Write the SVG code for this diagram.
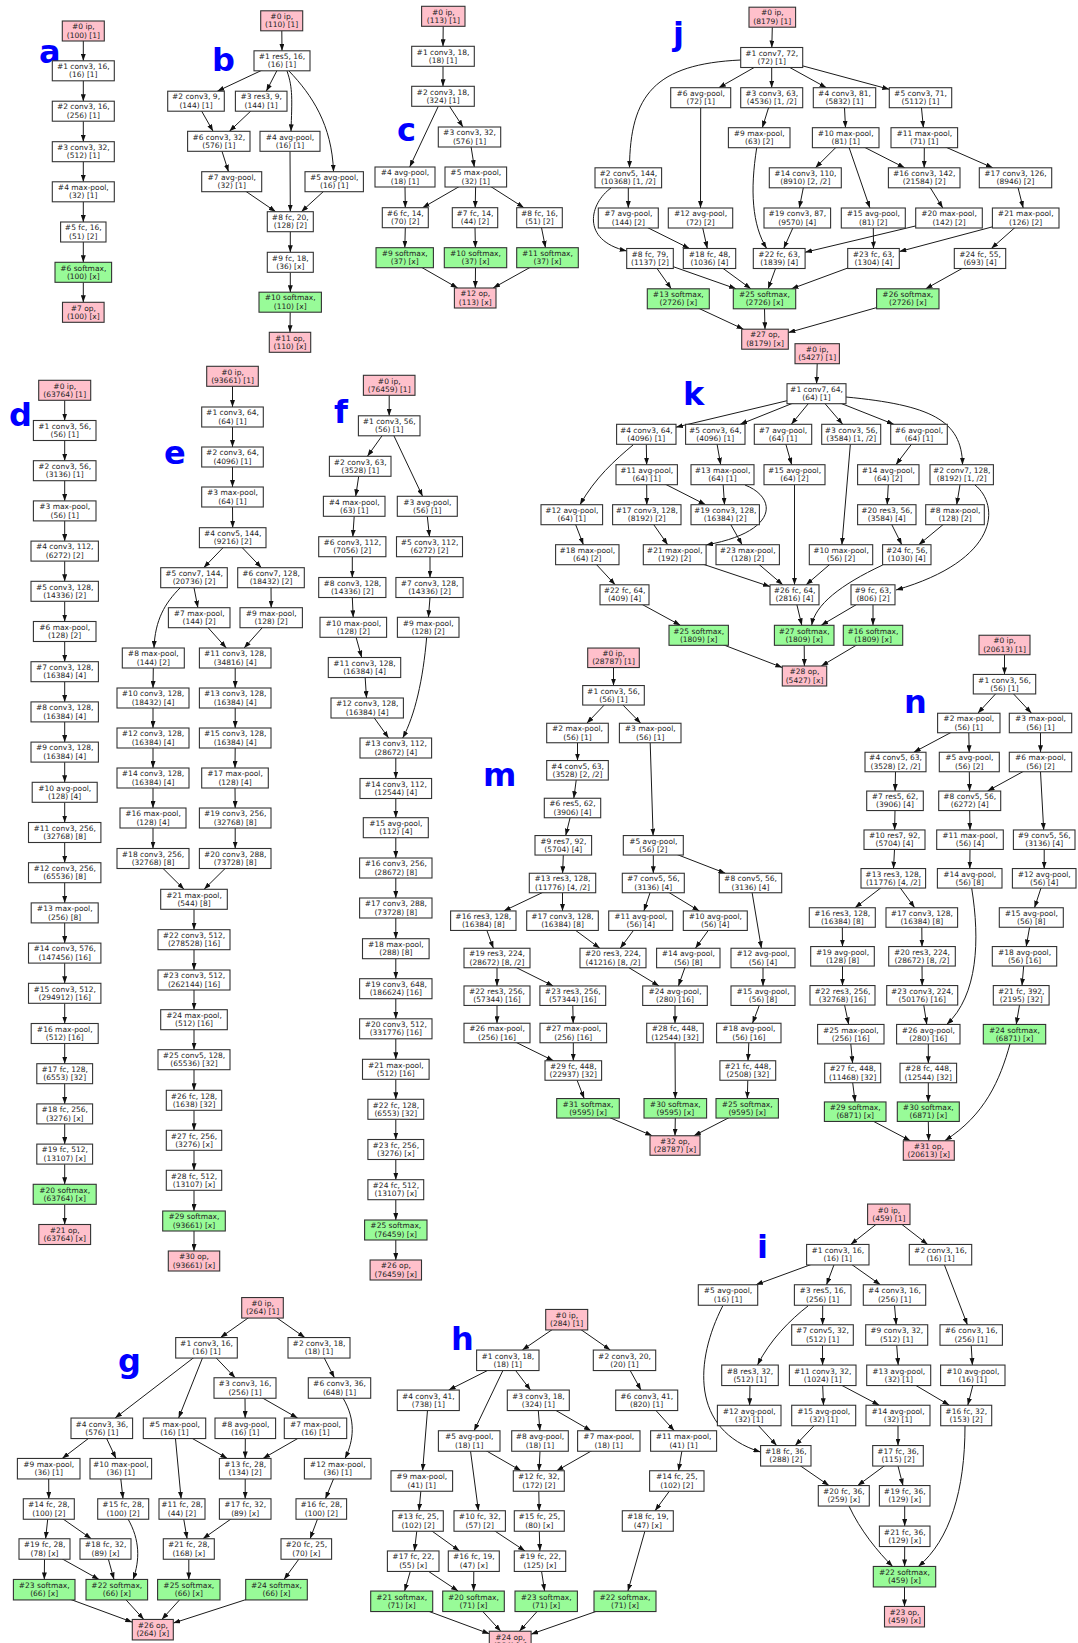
<svg xmlns="http://www.w3.org/2000/svg" width="1078" height="1643" viewBox="0 0 1078 1643">
<defs>
<marker id="ah" viewBox="0 0 10 10" refX="10" refY="5" markerWidth="7" markerHeight="5" markerUnits="userSpaceOnUse" orient="auto" preserveAspectRatio="none"><path d="M0,0 L10,5 L0,10 z" fill="#111"/></marker>
<style>
.e path{fill:none;stroke:#1a1a1a;stroke-width:1;marker-end:url(#ah)}
.nd rect{fill:#fff;stroke:#333;stroke-width:1.1}
.ip rect{fill:#ffc0cb}
.sm rect{fill:#98fb98}
text{font-family:"DejaVu Sans",sans-serif;font-size:7.5px;fill:#222;text-anchor:middle}
.lbl{font-size:32px;font-weight:bold;fill:#0000ff;text-anchor:start}
</style>
</defs>
<rect width="1078" height="1643" fill="#fff"/>
<g id="labels">
<text class="lbl" x="39" y="63">a</text>
<text class="lbl" x="212" y="70.5">b</text>
<text class="lbl" x="397" y="140.5">c</text>
<text class="lbl" x="673" y="44.5">j</text>
<text class="lbl" x="9" y="425.5">d</text>
<text class="lbl" x="164" y="464">e</text>
<text class="lbl" x="334" y="423">f</text>
<text class="lbl" x="683" y="405">k</text>
<text class="lbl" x="483" y="785.5">m</text>
<text class="lbl" x="904" y="713">n</text>
<text class="lbl" x="118" y="1371.5">g</text>
<text class="lbl" x="451" y="1350">h</text>
<text class="lbl" x="757" y="1257.5">i</text>
</g>
<g id="connectors" class="e">
<path d="M83.3,41 L83.3,60.8"/><path d="M83.3,80.8 L83.3,101.2"/><path d="M83.3,121.2 L83.3,141.7"/><path d="M83.3,161.7 L83.3,181.8"/><path d="M83.3,201.8 L83.3,222"/><path d="M83.3,242 L83.3,262.3"/><path d="M83.3,282.3 L83.3,302.3"/>
<path d="M281.8,30.8 L282,50.8"/><path d="M282,60.8 L217.3,91.2"/><path d="M282,60.8 L266.3,91.2"/><path d="M287,71 C293,88 292,100 291,131.3"/><path d="M289,71 C312,95 332,125 333.5,171.7"/><path d="M196,101.2 L213.1,131.3"/><path d="M261.2,101.2 L229.4,131.3"/><path d="M218.8,141.3 L228.5,171.7"/><path d="M231.7,181.7 L275.7,211.7"/><path d="M290,151.3 L290.3,211.7"/><path d="M334.2,181.7 L301.3,211.7"/><path d="M290.3,231.7 L290.3,252.3"/><path d="M290.3,272.3 L290.3,292.2"/><path d="M290.2,312.2 L290,332.3"/>
<path d="M443.2,26.3 L443,46.3"/><path d="M443,66.3 L443,86.3"/><path d="M443,96.3 L409.7,167"/><path d="M443,96.3 L463,127"/><path d="M469.5,137 L474.3,167"/><path d="M405,187 L405.3,207.7"/><path d="M475.8,177 L422.6,207.7"/><path d="M475.8,177 L475.2,207.7"/><path d="M475.8,177 L523.9,207.7"/><path d="M405.3,227.7 L404.8,247.7"/><path d="M475,227.7 L475.4,247.7"/><path d="M539.5,217.7 L545.5,247.7"/><path d="M404.7,257.7 L457.7,288"/><path d="M475.5,267.7 L475.3,288"/><path d="M547.5,257.7 L493.1,288"/>
<path d="M772.3,27.2 L771.8,47.5"/><path d="M771.7,57.5 L718.8,87.7"/><path d="M771.7,67.5 L771.7,87.7"/><path d="M771.7,57.5 L826.4,87.7"/><path d="M771.7,57.5 L889.3,89.3"/><path d="M740.7,60 C655,64 630,95 629.5,167.8"/><path d="M700.7,107.7 L700.5,208"/><path d="M771.7,97.7 L762.3,127.7"/><path d="M844.5,107.7 L845.5,127.7"/><path d="M920.5,97.7 L923.4,127.7"/><path d="M756.7,148 C750,190 752,225 766.7,248.5"/><path d="M845.7,137.7 L815.4,167.8"/><path d="M845.7,137.7 L904.7,167.8"/><path d="M845.7,137.7 L869.9,208"/><path d="M924.3,147.7 L924.2,167.8"/><path d="M924.3,137.7 L992.8,167.8"/><path d="M628.3,187.8 L628.3,208"/><path d="M611,188 C590,203 580,240 626.7,251"/><path d="M805.3,177.8 L799.3,208"/><path d="M924.2,177.8 L942.8,208"/><path d="M1015.5,177.8 L1023.2,208"/><path d="M628.3,218 L689.5,248.5"/><path d="M700.5,218 L707.3,248.5"/><path d="M797.3,218 L783.7,248.5"/><path d="M949,218 L805,252.3"/><path d="M873.3,228 L873.5,248.5"/><path d="M1025.7,218 L899.3,251.6"/><path d="M1025.7,218 L991.3,248.5"/><path d="M650,258.5 L671.3,288.8"/><path d="M650,258.5 L736.1,288.8"/><path d="M709.5,258.5 L750.9,288.8"/><path d="M779.2,258.5 L768.1,288.8"/><path d="M873.5,258.5 L791.5,288.8"/><path d="M980,258.5 L925.7,288.8"/><path d="M678.3,298.8 L743.5,329.2"/><path d="M764.5,308.8 L765,329.2"/><path d="M907.8,298.8 L788.3,332.6"/>
<path d="M64.7,400.3 L64.7,420.5"/><path d="M64.7,440.5 L64.7,460.7"/><path d="M64.7,480.7 L64.7,500.9"/><path d="M64.7,520.9 L64.7,541.1"/><path d="M64.7,561.1 L64.7,581.3"/><path d="M64.7,601.3 L64.7,621.5"/><path d="M64.7,641.5 L64.7,661.7"/><path d="M64.7,681.7 L64.7,701.9"/><path d="M64.7,721.9 L64.7,742.1"/><path d="M64.7,762.1 L64.7,782.3"/><path d="M64.7,802.3 L64.7,822.5"/><path d="M64.7,842.5 L64.7,862.7"/><path d="M64.7,882.7 L64.7,902.9"/><path d="M64.7,922.9 L64.7,943.1"/><path d="M64.7,963.1 L64.7,983.3"/><path d="M64.7,1003.3 L64.7,1023.5"/><path d="M64.7,1043.5 L64.7,1063.7"/><path d="M64.7,1083.7 L64.7,1103.9"/><path d="M64.7,1123.9 L64.7,1144.1"/><path d="M64.7,1164.1 L64.7,1184.3"/><path d="M64.7,1204.3 L64.7,1224.5"/>
<path d="M232.5,386.3 L232.5,407"/><path d="M232.5,427 L232.5,447"/><path d="M232.5,467 L232.5,487"/><path d="M232.5,507 L232.7,527.7"/><path d="M232.7,537.7 L203.7,567.7"/><path d="M232.7,537.7 L261.4,567.7"/><path d="M194,587.7 L197.9,607.7"/><path d="M180,588 C165,603 155,620 154,648"/><path d="M271,587.7 L271.2,607.7"/><path d="M199.2,617.7 L226.3,648"/><path d="M271.2,617.7 L244.1,648"/><path d="M153.3,668 L153,688"/><path d="M153,708 L153,728"/><path d="M153,748 L153,768"/><path d="M153,788 L153,808"/><path d="M153,828 L153,848.5"/><path d="M235.2,668 L235.2,688"/><path d="M235.2,708 L235.2,728"/><path d="M235.2,748 L235,768"/><path d="M235,788 L235.2,808"/><path d="M235.2,828 L235.2,848.5"/><path d="M153,858.5 L184,889.3"/><path d="M235.2,858.5 L204.1,889.3"/><path d="M194,909.3 L194,929.7"/><path d="M194,949.7 L194,970"/><path d="M194,990 L194,1009.7"/><path d="M194,1029.7 L194,1049.7"/><path d="M194,1069.7 L194,1090.3"/><path d="M194,1110.3 L194,1130.3"/><path d="M194,1150.3 L194,1170.3"/><path d="M194,1190.3 L194,1211"/><path d="M194,1231 L194,1251"/>
<path d="M389.2,395.3 L389.2,415.8"/><path d="M389.2,425.8 L367.4,456.3"/><path d="M389.2,425.8 L422.6,496.3"/><path d="M360.2,466.3 L355.7,496.3"/><path d="M354.2,516.3 L352.8,536.7"/><path d="M352.3,556.7 L352.3,577.5"/><path d="M352.3,597.5 L353.2,617.3"/><path d="M353.3,627.3 L361.7,657.5"/><path d="M364.5,667.5 L366.5,698"/><path d="M367.2,708 L388.6,738"/><path d="M427.3,516.3 L429.5,536.7"/><path d="M430,556.7 L430,577.5"/><path d="M430,597.5 L428.4,617.3"/><path d="M426.7,637 C423,680 415,715 402.7,738"/><path d="M395.8,758 L395.8,778.5"/><path d="M395.8,798.5 L395.8,817.7"/><path d="M395.8,837.7 L395.8,858"/><path d="M395.8,878 L395.8,898"/><path d="M395.8,918 L395.8,938.7"/><path d="M395.8,958.7 L395.8,978.7"/><path d="M395.8,998.7 L395.8,1018.8"/><path d="M395.8,1038.8 L395.8,1059.3"/><path d="M395.8,1079.3 L395.8,1099.3"/><path d="M395.8,1119.3 L395.8,1139.5"/><path d="M395.8,1159.5 L395.8,1179.7"/><path d="M395.8,1199.7 L395.8,1220"/><path d="M395.8,1240 L395.8,1260"/>
<path d="M817.2,363.7 L816.6,383.7"/><path d="M816.5,393.7 L675.9,427.2"/><path d="M816.5,393.7 L740.2,424.3"/><path d="M816.5,393.7 L791.3,424.3"/><path d="M816.5,393.7 L842.7,424.3"/><path d="M816.5,393.7 L893.8,424.3"/><path d="M846,397 C930,405 962,420 962.5,464.7"/><path d="M646.3,444.3 L646.7,464.7"/><path d="M633,445 C615,460 595,478 580,504.7"/><path d="M715.3,434.3 L720.7,464.7"/><path d="M783,434.3 L791.7,464.7"/><path d="M851.2,434.3 L841.9,544.7"/><path d="M919,434.3 L895.9,464.7"/><path d="M961.7,474.7 L956.7,504.7"/><path d="M975,485 C1000,505 1000,560 896,590"/><path d="M646.7,484.7 L646.8,504.7"/><path d="M646.7,474.7 L705.6,504.7"/><path d="M722.5,474.7 L724.5,504.7"/><path d="M745,485 C778,498 778,532 706,545"/><path d="M888.3,484.7 L887.2,504.7"/><path d="M571.8,514.7 L583.4,544.7"/><path d="M646.8,514.7 L667.7,544.7"/><path d="M725.2,514.7 L742.1,544.7"/><path d="M886.8,514.7 L901.8,544.7"/><path d="M955,514.7 L918.8,544.7"/><path d="M587.3,554.7 L615.2,584.8"/><path d="M674.7,554.7 L770,586.6"/><path d="M747.7,554.7 L782.8,584.8"/><path d="M794.5,484.7 L794.5,584.8"/><path d="M841,554.7 L806.1,584.8"/><path d="M882.7,565 C840,585 815,605 811.7,625.3"/><path d="M624.5,594.8 L680.4,625.3"/><path d="M794.5,594.8 L801.8,625.3"/><path d="M873,594.8 L821.2,625.3"/><path d="M873,604.8 L873,625.3"/><path d="M698.7,635.3 L782.3,667.5"/><path d="M804.2,645.3 L804.4,666"/><path d="M873,635.3 L821.3,666"/>
<path d="M613.5,667.55 L613.5,685.55"/><path d="M613.5,695.3 L586.8,723.25"/><path d="M613.5,695.3 L640.7,723.25"/><path d="M577.5,742.75 L577.5,760.55"/><path d="M577.5,770.3 L573.8,798.25"/><path d="M572.5,808 L565.7,835.55"/><path d="M563.3,855.05 L562.6,873.25"/><path d="M650.2,742.75 L653.1,835.55"/><path d="M653.3,855.05 L653.3,873.25"/><path d="M653.3,845.3 L725.4,873.25"/><path d="M562.5,883 L503.8,910.95"/><path d="M562.5,892.75 L562.5,910.95"/><path d="M653.3,883 L643.9,910.95"/><path d="M653.3,883 L699.3,910.95"/><path d="M750.5,883 L761.4,948.25"/><path d="M483.3,920.7 L493.4,948.25"/><path d="M562.5,920.7 L599.8,948.25"/><path d="M640.7,920.7 L620.2,948.25"/><path d="M715.3,920.7 L695.4,948.25"/><path d="M497,967.75 L497,985.95"/><path d="M497,958 L553.2,985.95"/><path d="M613,958 L659,985.95"/><path d="M688.3,958 L678.4,985.95"/><path d="M763,967.75 L763,985.95"/><path d="M497,1005.45 L497,1023.25"/><path d="M572.8,1005.45 L573.2,1023.25"/><path d="M675,1005.45 L675,1023.25"/><path d="M763,995.7 L752.5,1023.25"/><path d="M497,1033 L553.5,1060.75"/><path d="M573.3,1042.75 L573.3,1060.75"/><path d="M748.8,1042.75 L748,1060.75"/><path d="M573.3,1070.5 L584.2,1098.55"/><path d="M675,1042.75 L675.3,1098.55"/><path d="M747.8,1080.25 L747.3,1098.55"/><path d="M588,1108.3 L652.2,1135.75"/><path d="M675.3,1118.05 L675,1135.75"/><path d="M747.2,1108.3 L693.9,1135.75"/>
<path d="M1004.5,654.75 L1004.5,674.45"/><path d="M1004.5,684.2 L977.8,713.25"/><path d="M1004.5,684.2 L1031.5,713.25"/><path d="M968.8,723 L913.8,752.25"/><path d="M968.8,732.75 L969.2,752.25"/><path d="M1040.5,732.75 L1040.5,752.25"/><path d="M895.5,771.75 L895.1,791.05"/><path d="M969.3,771.75 L969.6,791.05"/><path d="M1040.5,762 L987.5,791.05"/><path d="M1040.5,771.75 L1043.7,829.95"/><path d="M895,810.55 L894.6,829.95"/><path d="M969.7,810.55 L970,829.95"/><path d="M894.5,849.45 L893.5,868.55"/><path d="M970,849.45 L969.8,868.55"/><path d="M1044.2,849.45 L1044.2,868.55"/><path d="M893.3,878.3 L855,907.75"/><path d="M893.3,878.3 L914.7,907.75"/><path d="M1044.2,878.3 L1034.5,907.75"/><path d="M842.3,927.25 L842.5,946.55"/><path d="M921.8,927.25 L922,946.55"/><path d="M1031.3,917.5 L1026.2,946.55"/><path d="M842.5,966.05 L842.5,985.55"/><path d="M922,966.05 L922.2,985.55"/><path d="M1024.5,956.3 L1022,985.55"/><path d="M842.5,995.3 L848.7,1024.45"/><path d="M922.2,995.3 L926.8,1024.45"/><path d="M971.7,888.3 C980,940 978,995 946.7,1024.5"/><path d="M1021.2,995.3 L1016.2,1024.45"/><path d="M850.8,1043.95 L852.6,1063.25"/><path d="M928.3,1043.95 L928.3,1063.25"/><path d="M852.7,1082.75 L855.1,1101.95"/><path d="M928.3,1082.75 L928.3,1101.95"/><path d="M855.2,1111.7 L910.3,1140.75"/><path d="M928.3,1121.45 L928.7,1140.75"/><path d="M1010,1044 C1000,1080 985,1115 945,1140.5"/>
<path d="M262.5,1307.8 L220.5,1337.55"/><path d="M262.5,1307.8 L304.9,1337.55"/><path d="M206.5,1347.8 L115.1,1418.05"/><path d="M206.5,1347.8 L178.6,1418.05"/><path d="M206.5,1347.8 L235.2,1377.75"/><path d="M319,1347.8 L334.4,1377.75"/><path d="M245,1398.25 L245.2,1418.05"/><path d="M245,1388 L297.6,1418.05"/><path d="M343,1398 C356,1420 354,1440 345,1458.5"/><path d="M101.8,1428.3 L62.2,1458.45"/><path d="M101.8,1428.3 L116,1458.45"/><path d="M174.5,1428.3 L227.3,1458.45"/><path d="M245.3,1438.55 L245.2,1458.45"/><path d="M315.5,1428.3 L263,1458.45"/><path d="M174.5,1428.3 L181.1,1498.75"/><path d="M245.2,1478.95 L245.2,1498.75"/><path d="M337.7,1468.7 L325.4,1498.75"/><path d="M48.7,1478.95 L48.8,1498.75"/><path d="M120.8,1478.95 L123,1498.75"/><path d="M48.8,1509 L45.6,1538.75"/><path d="M48.8,1509 L91.3,1538.75"/><path d="M182,1509 L187.1,1538.75"/><path d="M245.2,1509 L202.9,1538.75"/><path d="M321.3,1509 L310.1,1538.75"/><path d="M44.5,1559.25 L44.3,1579.45"/><path d="M44.5,1549 L99,1579.45"/><path d="M105.5,1549 L114,1579.45"/><path d="M128,1519 C140,1540 140,1560 133,1579.5"/><path d="M188.8,1559.25 L188.8,1579.45"/><path d="M306.3,1549 L284,1579.45"/><path d="M44.2,1589.7 L132.3,1622.15"/><path d="M116.8,1589.7 L143.8,1619.45"/><path d="M188.8,1589.7 L161.8,1619.45"/><path d="M276.5,1589.7 L173.3,1623.1"/>
<path d="M566.7,1319.7 L522.3,1350.05"/><path d="M566.7,1319.7 L610.3,1350.05"/><path d="M507.8,1360.3 L448.7,1390.05"/><path d="M507.8,1360.3 L474.1,1430.75"/><path d="M507.8,1360.3 L530.5,1390.05"/><path d="M624.5,1360.3 L641,1390.05"/><path d="M646.7,1400.3 L674.3,1430.75"/><path d="M538.3,1410.55 L539.9,1430.75"/><path d="M538.3,1400.3 L591,1430.75"/><path d="M428.3,1400.3 L422.6,1470.75"/><path d="M469.2,1441 L521,1470.75"/><path d="M540,1451.25 L539,1470.75"/><path d="M608.8,1441 L556.7,1470.75"/><path d="M683.6,1441 L678.5,1470.75"/><path d="M469.2,1441 L478.4,1510.75"/><path d="M421.8,1481 L419,1510.75"/><path d="M538.8,1491.25 L539.2,1510.75"/><path d="M676.8,1481 L655,1510.75"/><path d="M418,1521 L414.4,1550.95"/><path d="M418,1521 L459.6,1550.95"/><path d="M479.7,1521 L525,1550.95"/><path d="M539.3,1531.25 L539.9,1550.95"/><path d="M413.2,1561.2 L404.6,1591.05"/><path d="M413.2,1561.2 L458.1,1591.05"/><path d="M473.8,1571.45 L473.6,1591.05"/><path d="M540,1561.2 L544.6,1591.05"/><path d="M647.8,1521 L627.9,1591.05"/><path d="M401.7,1601.3 L489.35,1633.8"/><path d="M473.5,1601.3 L500.8,1631.25"/><path d="M546.2,1601.3 L519.4,1631.25"/><path d="M625,1601.3 L531.05,1634.2"/>
<path d="M888.8,1214.3 L850.7,1244.45"/><path d="M888.8,1214.3 L927.7,1244.45"/><path d="M837.8,1254.7 L755.9,1284.75"/><path d="M837.8,1254.7 L826.5,1284.75"/><path d="M837.8,1254.7 L880.4,1284.75"/><path d="M940.5,1254.7 L967.4,1324.75"/><path d="M822.7,1305.25 L822.6,1324.75"/><path d="M808,1306 C790,1320 770,1340 757.5,1365"/><path d="M894.5,1305.25 L896.2,1324.75"/><path d="M971.2,1345.25 L972.4,1365.05"/><path d="M822.5,1345.25 L822.6,1365.05"/><path d="M896.7,1345.25 L898.2,1365.05"/><path d="M722.7,1306 C695,1360 690,1430 760.5,1452"/><path d="M750,1385.55 L749.6,1405.25"/><path d="M822.7,1385.55 L823.5,1405.25"/><path d="M822.7,1375.3 L879.3,1405.25"/><path d="M898.7,1375.3 L949.4,1405.25"/><path d="M972.8,1385.55 L967.8,1405.25"/><path d="M749.2,1415.5 L776.7,1445.55"/><path d="M823.7,1415.5 L795.2,1445.55"/><path d="M898,1425.75 L898,1445.55"/><path d="M785.8,1455.8 L829,1485.55"/><path d="M898,1455.8 L857.7,1485.55"/><path d="M898,1466.05 L903,1485.55"/><path d="M904.7,1506.05 L904.7,1526.05"/><path d="M849,1506 C860,1530 878,1552 892.7,1566.5"/><path d="M904.7,1546.55 L904.6,1566.45"/><path d="M965,1426 C965,1490 950,1540 918.3,1566.5"/><path d="M904.5,1586.95 L904.5,1606.45"/>
</g>
<g id="graph-a">
<g id="a0" class="nd ip" transform="translate(83.3,31)"><rect x="-21" y="-10" width="42" height="20"/><text><tspan x="0" y="-1.8">#0 ip,</tspan><tspan x="0" y="6.6">(100) [1]</tspan></text></g>
<g id="a1" class="nd" transform="translate(83.3,70.8)"><rect x="-31" y="-10" width="62" height="20"/><text><tspan x="0" y="-1.8">#1 conv3, 16,</tspan><tspan x="0" y="6.6">(16) [1]</tspan></text></g>
<g id="a2" class="nd" transform="translate(83.3,111.2)"><rect x="-31" y="-10" width="62" height="20"/><text><tspan x="0" y="-1.8">#2 conv3, 16,</tspan><tspan x="0" y="6.6">(256) [1]</tspan></text></g>
<g id="a3" class="nd" transform="translate(83.3,151.7)"><rect x="-31" y="-10" width="62" height="20"/><text><tspan x="0" y="-1.8">#3 conv3, 32,</tspan><tspan x="0" y="6.6">(512) [1]</tspan></text></g>
<g id="a4" class="nd" transform="translate(83.3,191.8)"><rect x="-31" y="-10" width="62" height="20"/><text><tspan x="0" y="-1.8">#4 max-pool,</tspan><tspan x="0" y="6.6">(32) [1]</tspan></text></g>
<g id="a5" class="nd" transform="translate(83.3,232)"><rect x="-22.7" y="-10" width="45.4" height="20"/><text><tspan x="0" y="-1.8">#5 fc, 16,</tspan><tspan x="0" y="6.6">(51) [2]</tspan></text></g>
<g id="a6" class="nd sm" transform="translate(83.3,272.3)"><rect x="-28.3" y="-10" width="56.6" height="20"/><text><tspan x="0" y="-1.8">#6 softmax,</tspan><tspan x="0" y="6.6">(100) [x]</tspan></text></g>
<g id="a7" class="nd ip" transform="translate(83.3,312.3)"><rect x="-20.8" y="-10" width="41.6" height="20"/><text><tspan x="0" y="-1.8">#7 op,</tspan><tspan x="0" y="6.6">(100) [x]</tspan></text></g>
</g>
<g id="graph-b">
<g id="b0" class="nd ip" transform="translate(281.7,20.8)"><rect x="-21" y="-10" width="42" height="20"/><text><tspan x="0" y="-1.8">#0 ip,</tspan><tspan x="0" y="6.6">(110) [1]</tspan></text></g>
<g id="b1" class="nd" transform="translate(282,60.8)"><rect x="-28" y="-10" width="56" height="20"/><text><tspan x="0" y="-1.8">#1 res5, 16,</tspan><tspan x="0" y="6.6">(16) [1]</tspan></text></g>
<g id="b2" class="nd" transform="translate(196,101.2)"><rect x="-28.3" y="-10" width="56.6" height="20"/><text><tspan x="0" y="-1.8">#2 conv3, 9,</tspan><tspan x="0" y="6.6">(144) [1]</tspan></text></g>
<g id="b3" class="nd" transform="translate(261.2,101.2)"><rect x="-25.8" y="-10" width="51.6" height="20"/><text><tspan x="0" y="-1.8">#3 res3, 9,</tspan><tspan x="0" y="6.6">(144) [1]</tspan></text></g>
<g id="b6" class="nd" transform="translate(218.8,141.3)"><rect x="-31.2" y="-10" width="62.4" height="20"/><text><tspan x="0" y="-1.8">#6 conv3, 32,</tspan><tspan x="0" y="6.6">(576) [1]</tspan></text></g>
<g id="b4" class="nd" transform="translate(290,141.3)"><rect x="-30" y="-10" width="60" height="20"/><text><tspan x="0" y="-1.8">#4 avg-pool,</tspan><tspan x="0" y="6.6">(16) [1]</tspan></text></g>
<g id="b7" class="nd" transform="translate(231.7,181.7)"><rect x="-30" y="-10" width="60" height="20"/><text><tspan x="0" y="-1.8">#7 avg-pool,</tspan><tspan x="0" y="6.6">(32) [1]</tspan></text></g>
<g id="b5" class="nd" transform="translate(334.2,181.7)"><rect x="-29.2" y="-10" width="58.4" height="20"/><text><tspan x="0" y="-1.8">#5 avg-pool,</tspan><tspan x="0" y="6.6">(16) [1]</tspan></text></g>
<g id="b8" class="nd" transform="translate(290.3,221.7)"><rect x="-23" y="-10" width="46" height="20"/><text><tspan x="0" y="-1.8">#8 fc, 20,</tspan><tspan x="0" y="6.6">(128) [2]</tspan></text></g>
<g id="b9" class="nd" transform="translate(290.3,262.3)"><rect x="-23" y="-10" width="46" height="20"/><text><tspan x="0" y="-1.8">#9 fc, 18,</tspan><tspan x="0" y="6.6">(36) [x]</tspan></text></g>
<g id="b10" class="nd sm" transform="translate(290.2,302.2)"><rect x="-31.2" y="-10" width="62.4" height="20"/><text><tspan x="0" y="-1.8">#10 softmax,</tspan><tspan x="0" y="6.6">(110) [x]</tspan></text></g>
<g id="b11" class="nd ip" transform="translate(290,342.3)"><rect x="-20.7" y="-10" width="41.4" height="20"/><text><tspan x="0" y="-1.8">#11 op,</tspan><tspan x="0" y="6.6">(110) [x]</tspan></text></g>
</g>
<g id="graph-c">
<g id="c0" class="nd ip" transform="translate(443.3,16.3)"><rect x="-21.7" y="-10" width="43.4" height="20"/><text><tspan x="0" y="-1.8">#0 ip,</tspan><tspan x="0" y="6.6">(113) [1]</tspan></text></g>
<g id="c1" class="nd" transform="translate(443,56.3)"><rect x="-31.3" y="-10" width="62.6" height="20"/><text><tspan x="0" y="-1.8">#1 conv3, 18,</tspan><tspan x="0" y="6.6">(18) [1]</tspan></text></g>
<g id="c2" class="nd" transform="translate(443,96.3)"><rect x="-31.3" y="-10" width="62.6" height="20"/><text><tspan x="0" y="-1.8">#2 conv3, 18,</tspan><tspan x="0" y="6.6">(324) [1]</tspan></text></g>
<g id="c3" class="nd" transform="translate(469.5,137)"><rect x="-31.2" y="-10" width="62.4" height="20"/><text><tspan x="0" y="-1.8">#3 conv3, 32,</tspan><tspan x="0" y="6.6">(576) [1]</tspan></text></g>
<g id="c4" class="nd" transform="translate(405,177)"><rect x="-30" y="-10" width="60" height="20"/><text><tspan x="0" y="-1.8">#4 avg-pool,</tspan><tspan x="0" y="6.6">(18) [1]</tspan></text></g>
<g id="c5" class="nd" transform="translate(475.8,177)"><rect x="-30.8" y="-10" width="61.6" height="20"/><text><tspan x="0" y="-1.8">#5 max-pool,</tspan><tspan x="0" y="6.6">(32) [1]</tspan></text></g>
<g id="c6" class="nd" transform="translate(405.3,217.7)"><rect x="-23" y="-10" width="46" height="20"/><text><tspan x="0" y="-1.8">#6 fc, 14,</tspan><tspan x="0" y="6.6">(70) [2]</tspan></text></g>
<g id="c7" class="nd" transform="translate(475,217.7)"><rect x="-22.7" y="-10" width="45.4" height="20"/><text><tspan x="0" y="-1.8">#7 fc, 14,</tspan><tspan x="0" y="6.6">(44) [2]</tspan></text></g>
<g id="c8" class="nd" transform="translate(539.5,217.7)"><rect x="-22.8" y="-10" width="45.6" height="20"/><text><tspan x="0" y="-1.8">#8 fc, 16,</tspan><tspan x="0" y="6.6">(51) [2]</tspan></text></g>
<g id="c9" class="nd sm" transform="translate(404.7,257.7)"><rect x="-28.7" y="-10" width="57.4" height="20"/><text><tspan x="0" y="-1.8">#9 softmax,</tspan><tspan x="0" y="6.6">(37) [x]</tspan></text></g>
<g id="c10" class="nd sm" transform="translate(475.5,257.7)"><rect x="-31.2" y="-10" width="62.4" height="20"/><text><tspan x="0" y="-1.8">#10 softmax,</tspan><tspan x="0" y="6.6">(37) [x]</tspan></text></g>
<g id="c11" class="nd sm" transform="translate(547.5,257.7)"><rect x="-30.8" y="-10" width="61.6" height="20"/><text><tspan x="0" y="-1.8">#11 softmax,</tspan><tspan x="0" y="6.6">(37) [x]</tspan></text></g>
<g id="c12" class="nd ip" transform="translate(475.2,298)"><rect x="-20.8" y="-10" width="41.6" height="20"/><text><tspan x="0" y="-1.8">#12 op,</tspan><tspan x="0" y="6.6">(113) [x]</tspan></text></g>
</g>
<g id="graph-j">
<g id="j0" class="nd ip" transform="translate(772.3,17.2)"><rect x="-23.3" y="-10" width="46.6" height="20"/><text><tspan x="0" y="-1.8">#0 ip,</tspan><tspan x="0" y="6.6">(8179) [1]</tspan></text></g>
<g id="j1" class="nd" transform="translate(771.7,57.5)"><rect x="-31" y="-10" width="62" height="20"/><text><tspan x="0" y="-1.8">#1 conv7, 72,</tspan><tspan x="0" y="6.6">(72) [1]</tspan></text></g>
<g id="j6" class="nd" transform="translate(700.7,97.7)"><rect x="-30" y="-10" width="60" height="20"/><text><tspan x="0" y="-1.8">#6 avg-pool,</tspan><tspan x="0" y="6.6">(72) [1]</tspan></text></g>
<g id="j3" class="nd" transform="translate(771.7,97.7)"><rect x="-31" y="-10" width="62" height="20"/><text><tspan x="0" y="-1.8">#3 conv3, 63,</tspan><tspan x="0" y="6.6">(4536) [1, /2]</tspan></text></g>
<g id="j4" class="nd" transform="translate(844.5,97.7)"><rect x="-31.2" y="-10" width="62.4" height="20"/><text><tspan x="0" y="-1.8">#4 conv3, 81,</tspan><tspan x="0" y="6.6">(5832) [1]</tspan></text></g>
<g id="j5" class="nd" transform="translate(920.5,97.7)"><rect x="-31.2" y="-10" width="62.4" height="20"/><text><tspan x="0" y="-1.8">#5 conv3, 71,</tspan><tspan x="0" y="6.6">(5112) [1]</tspan></text></g>
<g id="j9" class="nd" transform="translate(759.2,137.7)"><rect x="-30.8" y="-10" width="61.6" height="20"/><text><tspan x="0" y="-1.8">#9 max-pool,</tspan><tspan x="0" y="6.6">(63) [2]</tspan></text></g>
<g id="j10" class="nd" transform="translate(845.7,137.7)"><rect x="-33.3" y="-10" width="66.6" height="20"/><text><tspan x="0" y="-1.8">#10 max-pool,</tspan><tspan x="0" y="6.6">(81) [1]</tspan></text></g>
<g id="j11" class="nd" transform="translate(924.3,137.7)"><rect x="-33.3" y="-10" width="66.6" height="20"/><text><tspan x="0" y="-1.8">#11 max-pool,</tspan><tspan x="0" y="6.6">(71) [1]</tspan></text></g>
<g id="j2" class="nd" transform="translate(628.3,177.8)"><rect x="-33.3" y="-10" width="66.6" height="20"/><text><tspan x="0" y="-1.8">#2 conv5, 144,</tspan><tspan x="0" y="6.6">(10368) [1, /2]</tspan></text></g>
<g id="j14" class="nd" transform="translate(805.3,177.8)"><rect x="-36" y="-10" width="72" height="20"/><text><tspan x="0" y="-1.8">#14 conv3, 110,</tspan><tspan x="0" y="6.6">(8910) [2, /2]</tspan></text></g>
<g id="j16" class="nd" transform="translate(924.2,177.8)"><rect x="-35.8" y="-10" width="71.6" height="20"/><text><tspan x="0" y="-1.8">#16 conv3, 142,</tspan><tspan x="0" y="6.6">(21584) [2]</tspan></text></g>
<g id="j17" class="nd" transform="translate(1015.5,177.8)"><rect x="-36.2" y="-10" width="72.4" height="20"/><text><tspan x="0" y="-1.8">#17 conv3, 126,</tspan><tspan x="0" y="6.6">(8946) [2]</tspan></text></g>
<g id="j7" class="nd" transform="translate(628.3,218)"><rect x="-30" y="-10" width="60" height="20"/><text><tspan x="0" y="-1.8">#7 avg-pool,</tspan><tspan x="0" y="6.6">(144) [2]</tspan></text></g>
<g id="j12" class="nd" transform="translate(700.5,218)"><rect x="-32.2" y="-10" width="64.4" height="20"/><text><tspan x="0" y="-1.8">#12 avg-pool,</tspan><tspan x="0" y="6.6">(72) [2]</tspan></text></g>
<g id="j19" class="nd" transform="translate(797.3,218)"><rect x="-33.3" y="-10" width="66.6" height="20"/><text><tspan x="0" y="-1.8">#19 conv3, 87,</tspan><tspan x="0" y="6.6">(9570) [4]</tspan></text></g>
<g id="j15" class="nd" transform="translate(873.3,218)"><rect x="-32" y="-10" width="64" height="20"/><text><tspan x="0" y="-1.8">#15 avg-pool,</tspan><tspan x="0" y="6.6">(81) [2]</tspan></text></g>
<g id="j20" class="nd" transform="translate(949,218)"><rect x="-33.3" y="-10" width="66.6" height="20"/><text><tspan x="0" y="-1.8">#20 max-pool,</tspan><tspan x="0" y="6.6">(142) [2]</tspan></text></g>
<g id="j21" class="nd" transform="translate(1025.7,218)"><rect x="-33.3" y="-10" width="66.6" height="20"/><text><tspan x="0" y="-1.8">#21 max-pool,</tspan><tspan x="0" y="6.6">(126) [2]</tspan></text></g>
<g id="j8" class="nd" transform="translate(650,258.5)"><rect x="-23.3" y="-10" width="46.6" height="20"/><text><tspan x="0" y="-1.8">#8 fc, 79,</tspan><tspan x="0" y="6.6">(1137) [2]</tspan></text></g>
<g id="j18" class="nd" transform="translate(709.5,258.5)"><rect x="-26.2" y="-10" width="52.4" height="20"/><text><tspan x="0" y="-1.8">#18 fc, 48,</tspan><tspan x="0" y="6.6">(1036) [4]</tspan></text></g>
<g id="j22" class="nd" transform="translate(779.2,258.5)"><rect x="-25.9" y="-10" width="51.8" height="20"/><text><tspan x="0" y="-1.8">#22 fc, 63,</tspan><tspan x="0" y="6.6">(1839) [4]</tspan></text></g>
<g id="j23" class="nd" transform="translate(873.5,258.5)"><rect x="-25.8" y="-10" width="51.6" height="20"/><text><tspan x="0" y="-1.8">#23 fc, 63,</tspan><tspan x="0" y="6.6">(1304) [4]</tspan></text></g>
<g id="j24" class="nd" transform="translate(980,258.5)"><rect x="-25.7" y="-10" width="51.4" height="20"/><text><tspan x="0" y="-1.8">#24 fc, 55,</tspan><tspan x="0" y="6.6">(693) [4]</tspan></text></g>
<g id="j13" class="nd sm" transform="translate(678.3,298.8)"><rect x="-31" y="-10" width="62" height="20"/><text><tspan x="0" y="-1.8">#13 softmax,</tspan><tspan x="0" y="6.6">(2726) [x]</tspan></text></g>
<g id="j25" class="nd sm" transform="translate(764.5,298.8)"><rect x="-31.2" y="-10" width="62.4" height="20"/><text><tspan x="0" y="-1.8">#25 softmax,</tspan><tspan x="0" y="6.6">(2726) [x]</tspan></text></g>
<g id="j26" class="nd sm" transform="translate(907.8,298.8)"><rect x="-31.2" y="-10" width="62.4" height="20"/><text><tspan x="0" y="-1.8">#26 softmax,</tspan><tspan x="0" y="6.6">(2726) [x]</tspan></text></g>
<g id="j27" class="nd ip" transform="translate(765,339.2)"><rect x="-23.3" y="-10" width="46.6" height="20"/><text><tspan x="0" y="-1.8">#27 op,</tspan><tspan x="0" y="6.6">(8179) [x]</tspan></text></g>
</g>
<g id="graph-d">
<g id="d0" class="nd ip" transform="translate(64.7,390.3)"><rect x="-26" y="-10" width="52" height="20"/><text><tspan x="0" y="-1.8">#0 ip,</tspan><tspan x="0" y="6.6">(63764) [1]</tspan></text></g>
<g id="d1" class="nd" transform="translate(64.7,430.5)"><rect x="-31.3" y="-10" width="62.6" height="20"/><text><tspan x="0" y="-1.8">#1 conv3, 56,</tspan><tspan x="0" y="6.6">(56) [1]</tspan></text></g>
<g id="d2" class="nd" transform="translate(64.7,470.7)"><rect x="-31.3" y="-10" width="62.6" height="20"/><text><tspan x="0" y="-1.8">#2 conv3, 56,</tspan><tspan x="0" y="6.6">(3136) [1]</tspan></text></g>
<g id="d3" class="nd" transform="translate(64.7,510.9)"><rect x="-31.3" y="-10" width="62.6" height="20"/><text><tspan x="0" y="-1.8">#3 max-pool,</tspan><tspan x="0" y="6.6">(56) [1]</tspan></text></g>
<g id="d4" class="nd" transform="translate(64.7,551.1)"><rect x="-33.7" y="-10" width="67.4" height="20"/><text><tspan x="0" y="-1.8">#4 conv3, 112,</tspan><tspan x="0" y="6.6">(6272) [2]</tspan></text></g>
<g id="d5" class="nd" transform="translate(64.7,591.3)"><rect x="-33.7" y="-10" width="67.4" height="20"/><text><tspan x="0" y="-1.8">#5 conv3, 128,</tspan><tspan x="0" y="6.6">(14336) [2]</tspan></text></g>
<g id="d6" class="nd" transform="translate(64.7,631.5)"><rect x="-31.3" y="-10" width="62.6" height="20"/><text><tspan x="0" y="-1.8">#6 max-pool,</tspan><tspan x="0" y="6.6">(128) [2]</tspan></text></g>
<g id="d7" class="nd" transform="translate(64.7,671.7)"><rect x="-33.7" y="-10" width="67.4" height="20"/><text><tspan x="0" y="-1.8">#7 conv3, 128,</tspan><tspan x="0" y="6.6">(16384) [4]</tspan></text></g>
<g id="d8" class="nd" transform="translate(64.7,711.9)"><rect x="-33.7" y="-10" width="67.4" height="20"/><text><tspan x="0" y="-1.8">#8 conv3, 128,</tspan><tspan x="0" y="6.6">(16384) [4]</tspan></text></g>
<g id="d9" class="nd" transform="translate(64.7,752.1)"><rect x="-33.7" y="-10" width="67.4" height="20"/><text><tspan x="0" y="-1.8">#9 conv3, 128,</tspan><tspan x="0" y="6.6">(16384) [4]</tspan></text></g>
<g id="d10" class="nd" transform="translate(64.7,792.3)"><rect x="-32.5" y="-10" width="65" height="20"/><text><tspan x="0" y="-1.8">#10 avg-pool,</tspan><tspan x="0" y="6.6">(128) [4]</tspan></text></g>
<g id="d11" class="nd" transform="translate(64.7,832.5)"><rect x="-36.2" y="-10" width="72.4" height="20"/><text><tspan x="0" y="-1.8">#11 conv3, 256,</tspan><tspan x="0" y="6.6">(32768) [8]</tspan></text></g>
<g id="d12" class="nd" transform="translate(64.7,872.7)"><rect x="-36.2" y="-10" width="72.4" height="20"/><text><tspan x="0" y="-1.8">#12 conv3, 256,</tspan><tspan x="0" y="6.6">(65536) [8]</tspan></text></g>
<g id="d13" class="nd" transform="translate(64.7,912.9)"><rect x="-33.5" y="-10" width="67" height="20"/><text><tspan x="0" y="-1.8">#13 max-pool,</tspan><tspan x="0" y="6.6">(256) [8]</tspan></text></g>
<g id="d14" class="nd" transform="translate(64.7,953.1)"><rect x="-36.2" y="-10" width="72.4" height="20"/><text><tspan x="0" y="-1.8">#14 conv3, 576,</tspan><tspan x="0" y="6.6">(147456) [16]</tspan></text></g>
<g id="d15" class="nd" transform="translate(64.7,993.3)"><rect x="-36.2" y="-10" width="72.4" height="20"/><text><tspan x="0" y="-1.8">#15 conv3, 512,</tspan><tspan x="0" y="6.6">(294912) [16]</tspan></text></g>
<g id="d16" class="nd" transform="translate(64.7,1033.5)"><rect x="-33.5" y="-10" width="67" height="20"/><text><tspan x="0" y="-1.8">#16 max-pool,</tspan><tspan x="0" y="6.6">(512) [16]</tspan></text></g>
<g id="d17" class="nd" transform="translate(64.7,1073.7)"><rect x="-27.9" y="-10" width="55.8" height="20"/><text><tspan x="0" y="-1.8">#17 fc, 128,</tspan><tspan x="0" y="6.6">(6553) [32]</tspan></text></g>
<g id="d18" class="nd" transform="translate(64.7,1113.9)"><rect x="-27.9" y="-10" width="55.8" height="20"/><text><tspan x="0" y="-1.8">#18 fc, 256,</tspan><tspan x="0" y="6.6">(3276) [x]</tspan></text></g>
<g id="d19" class="nd" transform="translate(64.7,1154.1)"><rect x="-27.9" y="-10" width="55.8" height="20"/><text><tspan x="0" y="-1.8">#19 fc, 512,</tspan><tspan x="0" y="6.6">(13107) [x]</tspan></text></g>
<g id="d20" class="nd sm" transform="translate(64.7,1194.3)"><rect x="-31.5" y="-10" width="63" height="20"/><text><tspan x="0" y="-1.8">#20 softmax,</tspan><tspan x="0" y="6.6">(63764) [x]</tspan></text></g>
<g id="d21" class="nd ip" transform="translate(64.7,1234.5)"><rect x="-25.9" y="-10" width="51.8" height="20"/><text><tspan x="0" y="-1.8">#21 op,</tspan><tspan x="0" y="6.6">(63764) [x]</tspan></text></g>
</g>
<g id="graph-e">
<g id="e0" class="nd ip" transform="translate(232.5,376.3)"><rect x="-25.8" y="-10" width="51.6" height="20"/><text><tspan x="0" y="-1.8">#0 ip,</tspan><tspan x="0" y="6.6">(93661) [1]</tspan></text></g>
<g id="e1" class="nd" transform="translate(232.5,417)"><rect x="-30.8" y="-10" width="61.6" height="20"/><text><tspan x="0" y="-1.8">#1 conv3, 64,</tspan><tspan x="0" y="6.6">(64) [1]</tspan></text></g>
<g id="e2" class="nd" transform="translate(232.5,457)"><rect x="-30.8" y="-10" width="61.6" height="20"/><text><tspan x="0" y="-1.8">#2 conv3, 64,</tspan><tspan x="0" y="6.6">(4096) [1]</tspan></text></g>
<g id="e3" class="nd" transform="translate(232.5,497)"><rect x="-30.8" y="-10" width="61.6" height="20"/><text><tspan x="0" y="-1.8">#3 max-pool,</tspan><tspan x="0" y="6.6">(64) [1]</tspan></text></g>
<g id="e4" class="nd" transform="translate(232.7,537.7)"><rect x="-33.3" y="-10" width="66.6" height="20"/><text><tspan x="0" y="-1.8">#4 conv5, 144,</tspan><tspan x="0" y="6.6">(9216) [2]</tspan></text></g>
<g id="e5" class="nd" transform="translate(194,577.7)"><rect x="-33.3" y="-10" width="66.6" height="20"/><text><tspan x="0" y="-1.8">#5 conv7, 144,</tspan><tspan x="0" y="6.6">(20736) [2]</tspan></text></g>
<g id="e6" class="nd" transform="translate(271,577.7)"><rect x="-33.3" y="-10" width="66.6" height="20"/><text><tspan x="0" y="-1.8">#6 conv7, 128,</tspan><tspan x="0" y="6.6">(18432) [2]</tspan></text></g>
<g id="e7" class="nd" transform="translate(199.2,617.7)"><rect x="-30.8" y="-10" width="61.6" height="20"/><text><tspan x="0" y="-1.8">#7 max-pool,</tspan><tspan x="0" y="6.6">(144) [2]</tspan></text></g>
<g id="e9" class="nd" transform="translate(271.2,617.7)"><rect x="-31.2" y="-10" width="62.4" height="20"/><text><tspan x="0" y="-1.8">#9 max-pool,</tspan><tspan x="0" y="6.6">(128) [2]</tspan></text></g>
<g id="e8" class="nd" transform="translate(153.3,658)"><rect x="-31" y="-10" width="62" height="20"/><text><tspan x="0" y="-1.8">#8 max-pool,</tspan><tspan x="0" y="6.6">(144) [2]</tspan></text></g>
<g id="e11" class="nd" transform="translate(235.2,658)"><rect x="-35.8" y="-10" width="71.6" height="20"/><text><tspan x="0" y="-1.8">#11 conv3, 128,</tspan><tspan x="0" y="6.6">(34816) [4]</tspan></text></g>
<g id="e10" class="nd" transform="translate(153,698)"><rect x="-36" y="-10" width="72" height="20"/><text><tspan x="0" y="-1.8">#10 conv3, 128,</tspan><tspan x="0" y="6.6">(18432) [4]</tspan></text></g>
<g id="e13" class="nd" transform="translate(235.2,698)"><rect x="-35.8" y="-10" width="71.6" height="20"/><text><tspan x="0" y="-1.8">#13 conv3, 128,</tspan><tspan x="0" y="6.6">(16384) [4]</tspan></text></g>
<g id="e12" class="nd" transform="translate(153,738)"><rect x="-36" y="-10" width="72" height="20"/><text><tspan x="0" y="-1.8">#12 conv3, 128,</tspan><tspan x="0" y="6.6">(16384) [4]</tspan></text></g>
<g id="e15" class="nd" transform="translate(235.2,738)"><rect x="-35.8" y="-10" width="71.6" height="20"/><text><tspan x="0" y="-1.8">#15 conv3, 128,</tspan><tspan x="0" y="6.6">(16384) [4]</tspan></text></g>
<g id="e14" class="nd" transform="translate(153,778)"><rect x="-36" y="-10" width="72" height="20"/><text><tspan x="0" y="-1.8">#14 conv3, 128,</tspan><tspan x="0" y="6.6">(16384) [4]</tspan></text></g>
<g id="e17" class="nd" transform="translate(235,778)"><rect x="-33.3" y="-10" width="66.6" height="20"/><text><tspan x="0" y="-1.8">#17 max-pool,</tspan><tspan x="0" y="6.6">(128) [4]</tspan></text></g>
<g id="e16" class="nd" transform="translate(153,818)"><rect x="-33" y="-10" width="66" height="20"/><text><tspan x="0" y="-1.8">#16 max-pool,</tspan><tspan x="0" y="6.6">(128) [4]</tspan></text></g>
<g id="e19" class="nd" transform="translate(235.2,818)"><rect x="-35.8" y="-10" width="71.6" height="20"/><text><tspan x="0" y="-1.8">#19 conv3, 256,</tspan><tspan x="0" y="6.6">(32768) [8]</tspan></text></g>
<g id="e18" class="nd" transform="translate(153,858.5)"><rect x="-36" y="-10" width="72" height="20"/><text><tspan x="0" y="-1.8">#18 conv3, 256,</tspan><tspan x="0" y="6.6">(32768) [8]</tspan></text></g>
<g id="e20" class="nd" transform="translate(235.2,858.5)"><rect x="-35.8" y="-10" width="71.6" height="20"/><text><tspan x="0" y="-1.8">#20 conv3, 288,</tspan><tspan x="0" y="6.6">(73728) [8]</tspan></text></g>
<g id="e21" class="nd" transform="translate(194,899.3)"><rect x="-33.3" y="-10" width="66.6" height="20"/><text><tspan x="0" y="-1.8">#21 max-pool,</tspan><tspan x="0" y="6.6">(544) [8]</tspan></text></g>
<g id="e22" class="nd" transform="translate(194,939.7)"><rect x="-36" y="-10" width="72" height="20"/><text><tspan x="0" y="-1.8">#22 conv3, 512,</tspan><tspan x="0" y="6.6">(278528) [16]</tspan></text></g>
<g id="e23" class="nd" transform="translate(194,980)"><rect x="-36" y="-10" width="72" height="20"/><text><tspan x="0" y="-1.8">#23 conv3, 512,</tspan><tspan x="0" y="6.6">(262144) [16]</tspan></text></g>
<g id="e24" class="nd" transform="translate(194,1019.7)"><rect x="-33.3" y="-10" width="66.6" height="20"/><text><tspan x="0" y="-1.8">#24 max-pool,</tspan><tspan x="0" y="6.6">(512) [16]</tspan></text></g>
<g id="e25" class="nd" transform="translate(194,1059.7)"><rect x="-36" y="-10" width="72" height="20"/><text><tspan x="0" y="-1.8">#25 conv5, 128,</tspan><tspan x="0" y="6.6">(65536) [32]</tspan></text></g>
<g id="e26" class="nd" transform="translate(194,1100.3)"><rect x="-27.7" y="-10" width="55.4" height="20"/><text><tspan x="0" y="-1.8">#26 fc, 128,</tspan><tspan x="0" y="6.6">(1638) [32]</tspan></text></g>
<g id="e27" class="nd" transform="translate(194,1140.3)"><rect x="-27.7" y="-10" width="55.4" height="20"/><text><tspan x="0" y="-1.8">#27 fc, 256,</tspan><tspan x="0" y="6.6">(3276) [x]</tspan></text></g>
<g id="e28" class="nd" transform="translate(194,1180.3)"><rect x="-27.7" y="-10" width="55.4" height="20"/><text><tspan x="0" y="-1.8">#28 fc, 512,</tspan><tspan x="0" y="6.6">(13107) [x]</tspan></text></g>
<g id="e29" class="nd sm" transform="translate(194,1221)"><rect x="-31.3" y="-10" width="62.6" height="20"/><text><tspan x="0" y="-1.8">#29 softmax,</tspan><tspan x="0" y="6.6">(93661) [x]</tspan></text></g>
<g id="e30" class="nd ip" transform="translate(194,1261)"><rect x="-25.7" y="-10" width="51.4" height="20"/><text><tspan x="0" y="-1.8">#30 op,</tspan><tspan x="0" y="6.6">(93661) [x]</tspan></text></g>
</g>
<g id="graph-f">
<g id="f0" class="nd ip" transform="translate(389.2,385.3)"><rect x="-25.8" y="-10" width="51.6" height="20"/><text><tspan x="0" y="-1.8">#0 ip,</tspan><tspan x="0" y="6.6">(76459) [1]</tspan></text></g>
<g id="f1" class="nd" transform="translate(389.2,425.8)"><rect x="-30.8" y="-10" width="61.6" height="20"/><text><tspan x="0" y="-1.8">#1 conv3, 56,</tspan><tspan x="0" y="6.6">(56) [1]</tspan></text></g>
<g id="f2" class="nd" transform="translate(360.2,466.3)"><rect x="-30.8" y="-10" width="61.6" height="20"/><text><tspan x="0" y="-1.8">#2 conv3, 63,</tspan><tspan x="0" y="6.6">(3528) [1]</tspan></text></g>
<g id="f4" class="nd" transform="translate(354.2,506.3)"><rect x="-30.8" y="-10" width="61.6" height="20"/><text><tspan x="0" y="-1.8">#4 max-pool,</tspan><tspan x="0" y="6.6">(63) [1]</tspan></text></g>
<g id="f3" class="nd" transform="translate(427.3,506.3)"><rect x="-30" y="-10" width="60" height="20"/><text><tspan x="0" y="-1.8">#3 avg-pool,</tspan><tspan x="0" y="6.6">(56) [1]</tspan></text></g>
<g id="f6" class="nd" transform="translate(352.3,546.7)"><rect x="-33.6" y="-10" width="67.2" height="20"/><text><tspan x="0" y="-1.8">#6 conv3, 112,</tspan><tspan x="0" y="6.6">(7056) [2]</tspan></text></g>
<g id="f5" class="nd" transform="translate(429.5,546.7)"><rect x="-33" y="-10" width="66" height="20"/><text><tspan x="0" y="-1.8">#5 conv3, 112,</tspan><tspan x="0" y="6.6">(6272) [2]</tspan></text></g>
<g id="f8" class="nd" transform="translate(352.3,587.5)"><rect x="-33.6" y="-10" width="67.2" height="20"/><text><tspan x="0" y="-1.8">#8 conv3, 128,</tspan><tspan x="0" y="6.6">(14336) [2]</tspan></text></g>
<g id="f7" class="nd" transform="translate(429.5,587.5)"><rect x="-33.6" y="-10" width="67.2" height="20"/><text><tspan x="0" y="-1.8">#7 conv3, 128,</tspan><tspan x="0" y="6.6">(14336) [2]</tspan></text></g>
<g id="f10" class="nd" transform="translate(353.3,627.3)"><rect x="-33.3" y="-10" width="66.6" height="20"/><text><tspan x="0" y="-1.8">#10 max-pool,</tspan><tspan x="0" y="6.6">(128) [2]</tspan></text></g>
<g id="f9" class="nd" transform="translate(428.2,627.3)"><rect x="-30.8" y="-10" width="61.6" height="20"/><text><tspan x="0" y="-1.8">#9 max-pool,</tspan><tspan x="0" y="6.6">(128) [2]</tspan></text></g>
<g id="f11" class="nd" transform="translate(364.5,667.5)"><rect x="-36.2" y="-10" width="72.4" height="20"/><text><tspan x="0" y="-1.8">#11 conv3, 128,</tspan><tspan x="0" y="6.6">(16384) [4]</tspan></text></g>
<g id="f12" class="nd" transform="translate(367.2,708)"><rect x="-36.2" y="-10" width="72.4" height="20"/><text><tspan x="0" y="-1.8">#12 conv3, 128,</tspan><tspan x="0" y="6.6">(16384) [4]</tspan></text></g>
<g id="f13" class="nd" transform="translate(395.8,748)"><rect x="-35.8" y="-10" width="71.6" height="20"/><text><tspan x="0" y="-1.8">#13 conv3, 112,</tspan><tspan x="0" y="6.6">(28672) [4]</tspan></text></g>
<g id="f14" class="nd" transform="translate(395.8,788.5)"><rect x="-35.8" y="-10" width="71.6" height="20"/><text><tspan x="0" y="-1.8">#14 conv3, 112,</tspan><tspan x="0" y="6.6">(12544) [4]</tspan></text></g>
<g id="f15" class="nd" transform="translate(395.8,827.7)"><rect x="-32.5" y="-10" width="65" height="20"/><text><tspan x="0" y="-1.8">#15 avg-pool,</tspan><tspan x="0" y="6.6">(112) [4]</tspan></text></g>
<g id="f16" class="nd" transform="translate(395.8,868)"><rect x="-36.2" y="-10" width="72.4" height="20"/><text><tspan x="0" y="-1.8">#16 conv3, 256,</tspan><tspan x="0" y="6.6">(28672) [8]</tspan></text></g>
<g id="f17" class="nd" transform="translate(395.8,908)"><rect x="-36.2" y="-10" width="72.4" height="20"/><text><tspan x="0" y="-1.8">#17 conv3, 288,</tspan><tspan x="0" y="6.6">(73728) [8]</tspan></text></g>
<g id="f18" class="nd" transform="translate(395.8,948.7)"><rect x="-33.3" y="-10" width="66.6" height="20"/><text><tspan x="0" y="-1.8">#18 max-pool,</tspan><tspan x="0" y="6.6">(288) [8]</tspan></text></g>
<g id="f19" class="nd" transform="translate(395.8,988.7)"><rect x="-36.2" y="-10" width="72.4" height="20"/><text><tspan x="0" y="-1.8">#19 conv3, 648,</tspan><tspan x="0" y="6.6">(186624) [16]</tspan></text></g>
<g id="f20" class="nd" transform="translate(395.8,1028.8)"><rect x="-36.2" y="-10" width="72.4" height="20"/><text><tspan x="0" y="-1.8">#20 conv3, 512,</tspan><tspan x="0" y="6.6">(331776) [16]</tspan></text></g>
<g id="f21" class="nd" transform="translate(395.8,1069.3)"><rect x="-33.3" y="-10" width="66.6" height="20"/><text><tspan x="0" y="-1.8">#21 max-pool,</tspan><tspan x="0" y="6.6">(512) [16]</tspan></text></g>
<g id="f22" class="nd" transform="translate(395.8,1109.3)"><rect x="-27.9" y="-10" width="55.8" height="20"/><text><tspan x="0" y="-1.8">#22 fc, 128,</tspan><tspan x="0" y="6.6">(6553) [32]</tspan></text></g>
<g id="f23" class="nd" transform="translate(395.8,1149.5)"><rect x="-27.9" y="-10" width="55.8" height="20"/><text><tspan x="0" y="-1.8">#23 fc, 256,</tspan><tspan x="0" y="6.6">(3276) [x]</tspan></text></g>
<g id="f24" class="nd" transform="translate(395.8,1189.7)"><rect x="-27.9" y="-10" width="55.8" height="20"/><text><tspan x="0" y="-1.8">#24 fc, 512,</tspan><tspan x="0" y="6.6">(13107) [x]</tspan></text></g>
<g id="f25" class="nd sm" transform="translate(395.8,1230)"><rect x="-31.2" y="-10" width="62.4" height="20"/><text><tspan x="0" y="-1.8">#25 softmax,</tspan><tspan x="0" y="6.6">(76459) [x]</tspan></text></g>
<g id="f26" class="nd ip" transform="translate(395.8,1270)"><rect x="-25.7" y="-10" width="51.4" height="20"/><text><tspan x="0" y="-1.8">#26 op,</tspan><tspan x="0" y="6.6">(76459) [x]</tspan></text></g>
</g>
<g id="graph-k">
<g id="k0" class="nd ip" transform="translate(817.2,353.7)"><rect x="-22.2" y="-10" width="44.4" height="20"/><text><tspan x="0" y="-1.8">#0 ip,</tspan><tspan x="0" y="6.6">(5427) [1]</tspan></text></g>
<g id="k1" class="nd" transform="translate(816.5,393.7)"><rect x="-29.5" y="-10" width="59" height="20"/><text><tspan x="0" y="-1.8">#1 conv7, 64,</tspan><tspan x="0" y="6.6">(64) [1]</tspan></text></g>
<g id="k4" class="nd" transform="translate(646.3,434.3)"><rect x="-29.7" y="-10" width="59.4" height="20"/><text><tspan x="0" y="-1.8">#4 conv3, 64,</tspan><tspan x="0" y="6.6">(4096) [1]</tspan></text></g>
<g id="k5" class="nd" transform="translate(715.3,434.3)"><rect x="-29.7" y="-10" width="59.4" height="20"/><text><tspan x="0" y="-1.8">#5 conv3, 64,</tspan><tspan x="0" y="6.6">(4096) [1]</tspan></text></g>
<g id="k7" class="nd" transform="translate(783,434.3)"><rect x="-28.7" y="-10" width="57.4" height="20"/><text><tspan x="0" y="-1.8">#7 avg-pool,</tspan><tspan x="0" y="6.6">(64) [1]</tspan></text></g>
<g id="k3" class="nd" transform="translate(851.2,434.3)"><rect x="-29.5" y="-10" width="59" height="20"/><text><tspan x="0" y="-1.8">#3 conv3, 56,</tspan><tspan x="0" y="6.6">(3584) [1, /2]</tspan></text></g>
<g id="k6" class="nd" transform="translate(919,434.3)"><rect x="-28.3" y="-10" width="56.6" height="20"/><text><tspan x="0" y="-1.8">#6 avg-pool,</tspan><tspan x="0" y="6.6">(64) [1]</tspan></text></g>
<g id="k11" class="nd" transform="translate(646.7,474.7)"><rect x="-30.7" y="-10" width="61.4" height="20"/><text><tspan x="0" y="-1.8">#11 avg-pool,</tspan><tspan x="0" y="6.6">(64) [1]</tspan></text></g>
<g id="k13" class="nd" transform="translate(722.5,474.7)"><rect x="-31.5" y="-10" width="63" height="20"/><text><tspan x="0" y="-1.8">#13 max-pool,</tspan><tspan x="0" y="6.6">(64) [1]</tspan></text></g>
<g id="k15" class="nd" transform="translate(794.5,474.7)"><rect x="-30.5" y="-10" width="61" height="20"/><text><tspan x="0" y="-1.8">#15 avg-pool,</tspan><tspan x="0" y="6.6">(64) [2]</tspan></text></g>
<g id="k14" class="nd" transform="translate(888.3,474.7)"><rect x="-30.7" y="-10" width="61.4" height="20"/><text><tspan x="0" y="-1.8">#14 avg-pool,</tspan><tspan x="0" y="6.6">(64) [2]</tspan></text></g>
<g id="k2" class="nd" transform="translate(961.7,474.7)"><rect x="-31.7" y="-10" width="63.4" height="20"/><text><tspan x="0" y="-1.8">#2 conv7, 128,</tspan><tspan x="0" y="6.6">(8192) [1, /2]</tspan></text></g>
<g id="k12" class="nd" transform="translate(571.8,514.7)"><rect x="-30.8" y="-10" width="61.6" height="20"/><text><tspan x="0" y="-1.8">#12 avg-pool,</tspan><tspan x="0" y="6.6">(64) [1]</tspan></text></g>
<g id="k17" class="nd" transform="translate(646.8,514.7)"><rect x="-34.2" y="-10" width="68.4" height="20"/><text><tspan x="0" y="-1.8">#17 conv3, 128,</tspan><tspan x="0" y="6.6">(8192) [2]</tspan></text></g>
<g id="k19" class="nd" transform="translate(725.2,514.7)"><rect x="-34.2" y="-10" width="68.4" height="20"/><text><tspan x="0" y="-1.8">#19 conv3, 128,</tspan><tspan x="0" y="6.6">(16384) [2]</tspan></text></g>
<g id="k20" class="nd" transform="translate(886.8,514.7)"><rect x="-29.2" y="-10" width="58.4" height="20"/><text><tspan x="0" y="-1.8">#20 res3, 56,</tspan><tspan x="0" y="6.6">(3584) [4]</tspan></text></g>
<g id="k8" class="nd" transform="translate(955,514.7)"><rect x="-29.3" y="-10" width="58.6" height="20"/><text><tspan x="0" y="-1.8">#8 max-pool,</tspan><tspan x="0" y="6.6">(128) [2]</tspan></text></g>
<g id="k18" class="nd" transform="translate(587.3,554.7)"><rect x="-31.7" y="-10" width="63.4" height="20"/><text><tspan x="0" y="-1.8">#18 max-pool,</tspan><tspan x="0" y="6.6">(64) [2]</tspan></text></g>
<g id="k21" class="nd" transform="translate(674.7,554.7)"><rect x="-31.4" y="-10" width="62.8" height="20"/><text><tspan x="0" y="-1.8">#21 max-pool,</tspan><tspan x="0" y="6.6">(192) [2]</tspan></text></g>
<g id="k23" class="nd" transform="translate(747.7,554.7)"><rect x="-31.7" y="-10" width="63.4" height="20"/><text><tspan x="0" y="-1.8">#23 max-pool,</tspan><tspan x="0" y="6.6">(128) [2]</tspan></text></g>
<g id="k10" class="nd" transform="translate(841,554.7)"><rect x="-31.7" y="-10" width="63.4" height="20"/><text><tspan x="0" y="-1.8">#10 max-pool,</tspan><tspan x="0" y="6.6">(56) [2]</tspan></text></g>
<g id="k24" class="nd" transform="translate(906.8,554.7)"><rect x="-24.2" y="-10" width="48.4" height="20"/><text><tspan x="0" y="-1.8">#24 fc, 56,</tspan><tspan x="0" y="6.6">(1030) [4]</tspan></text></g>
<g id="k22" class="nd" transform="translate(624.5,594.8)"><rect x="-24.5" y="-10" width="49" height="20"/><text><tspan x="0" y="-1.8">#22 fc, 64,</tspan><tspan x="0" y="6.6">(409) [4]</tspan></text></g>
<g id="k26" class="nd" transform="translate(794.5,594.8)"><rect x="-24.5" y="-10" width="49" height="20"/><text><tspan x="0" y="-1.8">#26 fc, 64,</tspan><tspan x="0" y="6.6">(2816) [4]</tspan></text></g>
<g id="k9" class="nd" transform="translate(873,594.8)"><rect x="-22" y="-10" width="44" height="20"/><text><tspan x="0" y="-1.8">#9 fc, 63,</tspan><tspan x="0" y="6.6">(806) [2]</tspan></text></g>
<g id="k25" class="nd sm" transform="translate(698.7,635.3)"><rect x="-29.7" y="-10" width="59.4" height="20"/><text><tspan x="0" y="-1.8">#25 softmax,</tspan><tspan x="0" y="6.6">(1809) [x]</tspan></text></g>
<g id="k27" class="nd sm" transform="translate(804.2,635.3)"><rect x="-29.8" y="-10" width="59.6" height="20"/><text><tspan x="0" y="-1.8">#27 softmax,</tspan><tspan x="0" y="6.6">(1809) [x]</tspan></text></g>
<g id="k16" class="nd sm" transform="translate(873,635.3)"><rect x="-29.7" y="-10" width="59.4" height="20"/><text><tspan x="0" y="-1.8">#16 softmax,</tspan><tspan x="0" y="6.6">(1809) [x]</tspan></text></g>
<g id="k28" class="nd ip" transform="translate(804.5,676)"><rect x="-22.2" y="-10" width="44.4" height="20"/><text><tspan x="0" y="-1.8">#28 op,</tspan><tspan x="0" y="6.6">(5427) [x]</tspan></text></g>
</g>
<g id="graph-m">
<g id="m0" class="nd ip" transform="translate(613.5,657.8)"><rect x="-25.8" y="-9.75" width="51.6" height="19.5"/><text><tspan x="0" y="-1.7">#0 ip,</tspan><tspan x="0" y="6.5">(28787) [1]</tspan></text></g>
<g id="m1" class="nd" transform="translate(613.5,695.3)"><rect x="-30.8" y="-9.75" width="61.6" height="19.5"/><text><tspan x="0" y="-1.7">#1 conv3, 56,</tspan><tspan x="0" y="6.5">(56) [1]</tspan></text></g>
<g id="m2" class="nd" transform="translate(577.5,733)"><rect x="-30.8" y="-9.75" width="61.6" height="19.5"/><text><tspan x="0" y="-1.7">#2 max-pool,</tspan><tspan x="0" y="6.5">(56) [1]</tspan></text></g>
<g id="m3" class="nd" transform="translate(650.2,733)"><rect x="-30.8" y="-9.75" width="61.6" height="19.5"/><text><tspan x="0" y="-1.7">#3 max-pool,</tspan><tspan x="0" y="6.5">(56) [1]</tspan></text></g>
<g id="m4" class="nd" transform="translate(577.5,770.3)"><rect x="-30.8" y="-9.75" width="61.6" height="19.5"/><text><tspan x="0" y="-1.7">#4 conv5, 63,</tspan><tspan x="0" y="6.5">(3528) [2, /2]</tspan></text></g>
<g id="m6" class="nd" transform="translate(572.5,808)"><rect x="-28.2" y="-9.75" width="56.4" height="19.5"/><text><tspan x="0" y="-1.7">#6 res5, 62,</tspan><tspan x="0" y="6.5">(3906) [4]</tspan></text></g>
<g id="m9" class="nd" transform="translate(563.3,845.3)"><rect x="-28.3" y="-9.75" width="56.6" height="19.5"/><text><tspan x="0" y="-1.7">#9 res7, 92,</tspan><tspan x="0" y="6.5">(5704) [4]</tspan></text></g>
<g id="m5" class="nd" transform="translate(653.3,845.3)"><rect x="-30" y="-9.75" width="60" height="19.5"/><text><tspan x="0" y="-1.7">#5 avg-pool,</tspan><tspan x="0" y="6.5">(56) [2]</tspan></text></g>
<g id="m13" class="nd" transform="translate(562.5,883)"><rect x="-33.2" y="-9.75" width="66.4" height="19.5"/><text><tspan x="0" y="-1.7">#13 res3, 128,</tspan><tspan x="0" y="6.5">(11776) [4, /2]</tspan></text></g>
<g id="m7" class="nd" transform="translate(653.3,883)"><rect x="-31" y="-9.75" width="62" height="19.5"/><text><tspan x="0" y="-1.7">#7 conv5, 56,</tspan><tspan x="0" y="6.5">(3136) [4]</tspan></text></g>
<g id="m8" class="nd" transform="translate(750.5,883)"><rect x="-31.2" y="-9.75" width="62.4" height="19.5"/><text><tspan x="0" y="-1.7">#8 conv5, 56,</tspan><tspan x="0" y="6.5">(3136) [4]</tspan></text></g>
<g id="m16" class="nd" transform="translate(483.3,920.7)"><rect x="-32.7" y="-9.75" width="65.4" height="19.5"/><text><tspan x="0" y="-1.7">#16 res3, 128,</tspan><tspan x="0" y="6.5">(16384) [8]</tspan></text></g>
<g id="m17" class="nd" transform="translate(562.5,920.7)"><rect x="-35.8" y="-9.75" width="71.6" height="19.5"/><text><tspan x="0" y="-1.7">#17 conv3, 128,</tspan><tspan x="0" y="6.5">(16384) [8]</tspan></text></g>
<g id="m11" class="nd" transform="translate(640.7,920.7)"><rect x="-32" y="-9.75" width="64" height="19.5"/><text><tspan x="0" y="-1.7">#11 avg-pool,</tspan><tspan x="0" y="6.5">(56) [4]</tspan></text></g>
<g id="m10" class="nd" transform="translate(715.3,920.7)"><rect x="-32" y="-9.75" width="64" height="19.5"/><text><tspan x="0" y="-1.7">#10 avg-pool,</tspan><tspan x="0" y="6.5">(56) [4]</tspan></text></g>
<g id="m19" class="nd" transform="translate(497,958)"><rect x="-33" y="-9.75" width="66" height="19.5"/><text><tspan x="0" y="-1.7">#19 res3, 224,</tspan><tspan x="0" y="6.5">(28672) [8, /2]</tspan></text></g>
<g id="m20" class="nd" transform="translate(613,958)"><rect x="-33" y="-9.75" width="66" height="19.5"/><text><tspan x="0" y="-1.7">#20 res3, 224,</tspan><tspan x="0" y="6.5">(41216) [8, /2]</tspan></text></g>
<g id="m14" class="nd" transform="translate(688.3,958)"><rect x="-31.7" y="-9.75" width="63.4" height="19.5"/><text><tspan x="0" y="-1.7">#14 avg-pool,</tspan><tspan x="0" y="6.5">(56) [8]</tspan></text></g>
<g id="m12" class="nd" transform="translate(763,958)"><rect x="-32" y="-9.75" width="64" height="19.5"/><text><tspan x="0" y="-1.7">#12 avg-pool,</tspan><tspan x="0" y="6.5">(56) [4]</tspan></text></g>
<g id="m22" class="nd" transform="translate(497,995.7)"><rect x="-33" y="-9.75" width="66" height="19.5"/><text><tspan x="0" y="-1.7">#22 res3, 256,</tspan><tspan x="0" y="6.5">(57344) [16]</tspan></text></g>
<g id="m23" class="nd" transform="translate(572.8,995.7)"><rect x="-32.9" y="-9.75" width="65.8" height="19.5"/><text><tspan x="0" y="-1.7">#23 res3, 256,</tspan><tspan x="0" y="6.5">(57344) [16]</tspan></text></g>
<g id="m24" class="nd" transform="translate(675,995.7)"><rect x="-32.3" y="-9.75" width="64.6" height="19.5"/><text><tspan x="0" y="-1.7">#24 avg-pool,</tspan><tspan x="0" y="6.5">(280) [16]</tspan></text></g>
<g id="m15" class="nd" transform="translate(763,995.7)"><rect x="-32" y="-9.75" width="64" height="19.5"/><text><tspan x="0" y="-1.7">#15 avg-pool,</tspan><tspan x="0" y="6.5">(56) [8]</tspan></text></g>
<g id="m26" class="nd" transform="translate(497,1033)"><rect x="-33" y="-9.75" width="66" height="19.5"/><text><tspan x="0" y="-1.7">#26 max-pool,</tspan><tspan x="0" y="6.5">(256) [16]</tspan></text></g>
<g id="m27" class="nd" transform="translate(573.3,1033)"><rect x="-33.3" y="-9.75" width="66.6" height="19.5"/><text><tspan x="0" y="-1.7">#27 max-pool,</tspan><tspan x="0" y="6.5">(256) [16]</tspan></text></g>
<g id="m28" class="nd" transform="translate(675,1033)"><rect x="-28.3" y="-9.75" width="56.6" height="19.5"/><text><tspan x="0" y="-1.7">#28 fc, 448,</tspan><tspan x="0" y="6.5">(12544) [32]</tspan></text></g>
<g id="m18" class="nd" transform="translate(748.8,1033)"><rect x="-32.2" y="-9.75" width="64.4" height="19.5"/><text><tspan x="0" y="-1.7">#18 avg-pool,</tspan><tspan x="0" y="6.5">(56) [16]</tspan></text></g>
<g id="m29" class="nd" transform="translate(573.3,1070.5)"><rect x="-28.3" y="-9.75" width="56.6" height="19.5"/><text><tspan x="0" y="-1.7">#29 fc, 448,</tspan><tspan x="0" y="6.5">(22937) [32]</tspan></text></g>
<g id="m21" class="nd" transform="translate(747.8,1070.5)"><rect x="-27.9" y="-9.75" width="55.8" height="19.5"/><text><tspan x="0" y="-1.7">#21 fc, 448,</tspan><tspan x="0" y="6.5">(2508) [32]</tspan></text></g>
<g id="m31" class="nd sm" transform="translate(588,1108.3)"><rect x="-31.3" y="-9.75" width="62.6" height="19.5"/><text><tspan x="0" y="-1.7">#31 softmax,</tspan><tspan x="0" y="6.5">(9595) [x]</tspan></text></g>
<g id="m30" class="nd sm" transform="translate(675.3,1108.3)"><rect x="-31.3" y="-9.75" width="62.6" height="19.5"/><text><tspan x="0" y="-1.7">#30 softmax,</tspan><tspan x="0" y="6.5">(9595) [x]</tspan></text></g>
<g id="m25" class="nd sm" transform="translate(747.2,1108.3)"><rect x="-31.2" y="-9.75" width="62.4" height="19.5"/><text><tspan x="0" y="-1.7">#25 softmax,</tspan><tspan x="0" y="6.5">(9595) [x]</tspan></text></g>
<g id="m32" class="nd ip" transform="translate(675,1145.5)"><rect x="-25" y="-9.75" width="50" height="19.5"/><text><tspan x="0" y="-1.7">#32 op,</tspan><tspan x="0" y="6.5">(28787) [x]</tspan></text></g>
</g>
<g id="graph-n">
<g id="n0" class="nd ip" transform="translate(1004.5,645)"><rect x="-25.5" y="-9.75" width="51" height="19.5"/><text><tspan x="0" y="-1.7">#0 ip,</tspan><tspan x="0" y="6.5">(20613) [1]</tspan></text></g>
<g id="n1" class="nd" transform="translate(1004.5,684.2)"><rect x="-31.2" y="-9.75" width="62.4" height="19.5"/><text><tspan x="0" y="-1.7">#1 conv3, 56,</tspan><tspan x="0" y="6.5">(56) [1]</tspan></text></g>
<g id="n2" class="nd" transform="translate(968.8,723)"><rect x="-31.2" y="-9.75" width="62.4" height="19.5"/><text><tspan x="0" y="-1.7">#2 max-pool,</tspan><tspan x="0" y="6.5">(56) [1]</tspan></text></g>
<g id="n3" class="nd" transform="translate(1040.5,723)"><rect x="-31.2" y="-9.75" width="62.4" height="19.5"/><text><tspan x="0" y="-1.7">#3 max-pool,</tspan><tspan x="0" y="6.5">(56) [1]</tspan></text></g>
<g id="n4" class="nd" transform="translate(895.5,762)"><rect x="-30.5" y="-9.75" width="61" height="19.5"/><text><tspan x="0" y="-1.7">#4 conv5, 63,</tspan><tspan x="0" y="6.5">(3528) [2, /2]</tspan></text></g>
<g id="n5" class="nd" transform="translate(969.3,762)"><rect x="-30" y="-9.75" width="60" height="19.5"/><text><tspan x="0" y="-1.7">#5 avg-pool,</tspan><tspan x="0" y="6.5">(56) [2]</tspan></text></g>
<g id="n6" class="nd" transform="translate(1040.5,762)"><rect x="-31.2" y="-9.75" width="62.4" height="19.5"/><text><tspan x="0" y="-1.7">#6 max-pool,</tspan><tspan x="0" y="6.5">(56) [2]</tspan></text></g>
<g id="n7" class="nd" transform="translate(895,800.8)"><rect x="-28.3" y="-9.75" width="56.6" height="19.5"/><text><tspan x="0" y="-1.7">#7 res5, 62,</tspan><tspan x="0" y="6.5">(3906) [4]</tspan></text></g>
<g id="n8" class="nd" transform="translate(969.7,800.8)"><rect x="-31" y="-9.75" width="62" height="19.5"/><text><tspan x="0" y="-1.7">#8 conv5, 56,</tspan><tspan x="0" y="6.5">(6272) [4]</tspan></text></g>
<g id="n10" class="nd" transform="translate(894.5,839.7)"><rect x="-30.5" y="-9.75" width="61" height="19.5"/><text><tspan x="0" y="-1.7">#10 res7, 92,</tspan><tspan x="0" y="6.5">(5704) [4]</tspan></text></g>
<g id="n11" class="nd" transform="translate(970,839.7)"><rect x="-33.3" y="-9.75" width="66.6" height="19.5"/><text><tspan x="0" y="-1.7">#11 max-pool,</tspan><tspan x="0" y="6.5">(56) [4]</tspan></text></g>
<g id="n9" class="nd" transform="translate(1044.2,839.7)"><rect x="-30.8" y="-9.75" width="61.6" height="19.5"/><text><tspan x="0" y="-1.7">#9 conv5, 56,</tspan><tspan x="0" y="6.5">(3136) [4]</tspan></text></g>
<g id="n13" class="nd" transform="translate(893.3,878.3)"><rect x="-32.3" y="-9.75" width="64.6" height="19.5"/><text><tspan x="0" y="-1.7">#13 res3, 128,</tspan><tspan x="0" y="6.5">(11776) [4, /2]</tspan></text></g>
<g id="n14" class="nd" transform="translate(969.7,878.3)"><rect x="-32.3" y="-9.75" width="64.6" height="19.5"/><text><tspan x="0" y="-1.7">#14 avg-pool,</tspan><tspan x="0" y="6.5">(56) [8]</tspan></text></g>
<g id="n12" class="nd" transform="translate(1044.2,878.3)"><rect x="-31.8" y="-9.75" width="63.6" height="19.5"/><text><tspan x="0" y="-1.7">#12 avg-pool,</tspan><tspan x="0" y="6.5">(56) [4]</tspan></text></g>
<g id="n16" class="nd" transform="translate(842.3,917.5)"><rect x="-33" y="-9.75" width="66" height="19.5"/><text><tspan x="0" y="-1.7">#16 res3, 128,</tspan><tspan x="0" y="6.5">(16384) [8]</tspan></text></g>
<g id="n17" class="nd" transform="translate(921.8,917.5)"><rect x="-35.8" y="-9.75" width="71.6" height="19.5"/><text><tspan x="0" y="-1.7">#17 conv3, 128,</tspan><tspan x="0" y="6.5">(16384) [8]</tspan></text></g>
<g id="n15" class="nd" transform="translate(1031.3,917.5)"><rect x="-32" y="-9.75" width="64" height="19.5"/><text><tspan x="0" y="-1.7">#15 avg-pool,</tspan><tspan x="0" y="6.5">(56) [8]</tspan></text></g>
<g id="n19" class="nd" transform="translate(842.5,956.3)"><rect x="-31.8" y="-9.75" width="63.6" height="19.5"/><text><tspan x="0" y="-1.7">#19 avg-pool,</tspan><tspan x="0" y="6.5">(128) [8]</tspan></text></g>
<g id="n20" class="nd" transform="translate(922,956.3)"><rect x="-33.3" y="-9.75" width="66.6" height="19.5"/><text><tspan x="0" y="-1.7">#20 res3, 224,</tspan><tspan x="0" y="6.5">(28672) [8, /2]</tspan></text></g>
<g id="n18" class="nd" transform="translate(1024.5,956.3)"><rect x="-32.2" y="-9.75" width="64.4" height="19.5"/><text><tspan x="0" y="-1.7">#18 avg-pool,</tspan><tspan x="0" y="6.5">(56) [16]</tspan></text></g>
<g id="n22" class="nd" transform="translate(842.5,995.3)"><rect x="-32.5" y="-9.75" width="65" height="19.5"/><text><tspan x="0" y="-1.7">#22 res3, 256,</tspan><tspan x="0" y="6.5">(32768) [16]</tspan></text></g>
<g id="n23" class="nd" transform="translate(922.2,995.3)"><rect x="-35.5" y="-9.75" width="71" height="19.5"/><text><tspan x="0" y="-1.7">#23 conv3, 224,</tspan><tspan x="0" y="6.5">(50176) [16]</tspan></text></g>
<g id="n21" class="nd" transform="translate(1021.2,995.3)"><rect x="-27.9" y="-9.75" width="55.8" height="19.5"/><text><tspan x="0" y="-1.7">#21 fc, 392,</tspan><tspan x="0" y="6.5">(2195) [32]</tspan></text></g>
<g id="n25" class="nd" transform="translate(850.8,1034.2)"><rect x="-33.2" y="-9.75" width="66.4" height="19.5"/><text><tspan x="0" y="-1.7">#25 max-pool,</tspan><tspan x="0" y="6.5">(256) [16]</tspan></text></g>
<g id="n26" class="nd" transform="translate(928.3,1034.2)"><rect x="-31.7" y="-9.75" width="63.4" height="19.5"/><text><tspan x="0" y="-1.7">#26 avg-pool,</tspan><tspan x="0" y="6.5">(280) [16]</tspan></text></g>
<g id="n24" class="nd sm" transform="translate(1014.5,1034.2)"><rect x="-31.2" y="-9.75" width="62.4" height="19.5"/><text><tspan x="0" y="-1.7">#24 softmax,</tspan><tspan x="0" y="6.5">(6871) [x]</tspan></text></g>
<g id="n27" class="nd" transform="translate(852.7,1073)"><rect x="-28" y="-9.75" width="56" height="19.5"/><text><tspan x="0" y="-1.7">#27 fc, 448,</tspan><tspan x="0" y="6.5">(11468) [32]</tspan></text></g>
<g id="n28" class="nd" transform="translate(928.3,1073)"><rect x="-28.3" y="-9.75" width="56.6" height="19.5"/><text><tspan x="0" y="-1.7">#28 fc, 448,</tspan><tspan x="0" y="6.5">(12544) [32]</tspan></text></g>
<g id="n29" class="nd sm" transform="translate(855.2,1111.7)"><rect x="-30.8" y="-9.75" width="61.6" height="19.5"/><text><tspan x="0" y="-1.7">#29 softmax,</tspan><tspan x="0" y="6.5">(6871) [x]</tspan></text></g>
<g id="n30" class="nd sm" transform="translate(928.3,1111.7)"><rect x="-31" y="-9.75" width="62" height="19.5"/><text><tspan x="0" y="-1.7">#30 softmax,</tspan><tspan x="0" y="6.5">(6871) [x]</tspan></text></g>
<g id="n31" class="nd ip" transform="translate(928.8,1150.5)"><rect x="-25.5" y="-9.75" width="51" height="19.5"/><text><tspan x="0" y="-1.7">#31 op,</tspan><tspan x="0" y="6.5">(20613) [x]</tspan></text></g>
</g>
<g id="graph-g">
<g id="g0" class="nd ip" transform="translate(262.5,1307.8)"><rect x="-20.8" y="-10.25" width="41.6" height="20.5"/><text><tspan x="0" y="-1.8">#0 ip,</tspan><tspan x="0" y="6.6">(264) [1]</tspan></text></g>
<g id="g1" class="nd" transform="translate(206.5,1347.8)"><rect x="-30.8" y="-10.25" width="61.6" height="20.5"/><text><tspan x="0" y="-1.8">#1 conv3, 16,</tspan><tspan x="0" y="6.6">(16) [1]</tspan></text></g>
<g id="g2" class="nd" transform="translate(319,1347.8)"><rect x="-31" y="-10.25" width="62" height="20.5"/><text><tspan x="0" y="-1.8">#2 conv3, 18,</tspan><tspan x="0" y="6.6">(18) [1]</tspan></text></g>
<g id="g3" class="nd" transform="translate(245,1388)"><rect x="-31" y="-10.25" width="62" height="20.5"/><text><tspan x="0" y="-1.8">#3 conv3, 16,</tspan><tspan x="0" y="6.6">(256) [1]</tspan></text></g>
<g id="g6" class="nd" transform="translate(339.5,1388)"><rect x="-31.2" y="-10.25" width="62.4" height="20.5"/><text><tspan x="0" y="-1.8">#6 conv3, 36,</tspan><tspan x="0" y="6.6">(648) [1]</tspan></text></g>
<g id="g4" class="nd" transform="translate(101.8,1428.3)"><rect x="-30.8" y="-10.25" width="61.6" height="20.5"/><text><tspan x="0" y="-1.8">#4 conv3, 36,</tspan><tspan x="0" y="6.6">(576) [1]</tspan></text></g>
<g id="g5" class="nd" transform="translate(174.5,1428.3)"><rect x="-31.2" y="-10.25" width="62.4" height="20.5"/><text><tspan x="0" y="-1.8">#5 max-pool,</tspan><tspan x="0" y="6.6">(16) [1]</tspan></text></g>
<g id="g8" class="nd" transform="translate(245.3,1428.3)"><rect x="-30.3" y="-10.25" width="60.6" height="20.5"/><text><tspan x="0" y="-1.8">#8 avg-pool,</tspan><tspan x="0" y="6.6">(16) [1]</tspan></text></g>
<g id="g7" class="nd" transform="translate(315.5,1428.3)"><rect x="-31.2" y="-10.25" width="62.4" height="20.5"/><text><tspan x="0" y="-1.8">#7 max-pool,</tspan><tspan x="0" y="6.6">(16) [1]</tspan></text></g>
<g id="g9" class="nd" transform="translate(48.7,1468.7)"><rect x="-31.3" y="-10.25" width="62.6" height="20.5"/><text><tspan x="0" y="-1.8">#9 max-pool,</tspan><tspan x="0" y="6.6">(36) [1]</tspan></text></g>
<g id="g10" class="nd" transform="translate(120.8,1468.7)"><rect x="-30.8" y="-10.25" width="61.6" height="20.5"/><text><tspan x="0" y="-1.8">#10 max-pool,</tspan><tspan x="0" y="6.6">(36) [1]</tspan></text></g>
<g id="g13" class="nd" transform="translate(245.2,1468.7)"><rect x="-25.8" y="-10.25" width="51.6" height="20.5"/><text><tspan x="0" y="-1.8">#13 fc, 28,</tspan><tspan x="0" y="6.6">(134) [2]</tspan></text></g>
<g id="g12" class="nd" transform="translate(337.7,1468.7)"><rect x="-33.3" y="-10.25" width="66.6" height="20.5"/><text><tspan x="0" y="-1.8">#12 max-pool,</tspan><tspan x="0" y="6.6">(36) [1]</tspan></text></g>
<g id="g14" class="nd" transform="translate(48.8,1509)"><rect x="-25.5" y="-10.25" width="51" height="20.5"/><text><tspan x="0" y="-1.8">#14 fc, 28,</tspan><tspan x="0" y="6.6">(100) [2]</tspan></text></g>
<g id="g15" class="nd" transform="translate(123.2,1509)"><rect x="-25.5" y="-10.25" width="51" height="20.5"/><text><tspan x="0" y="-1.8">#15 fc, 28,</tspan><tspan x="0" y="6.6">(100) [2]</tspan></text></g>
<g id="g11" class="nd" transform="translate(182,1509)"><rect x="-23" y="-10.25" width="46" height="20.5"/><text><tspan x="0" y="-1.8">#11 fc, 28,</tspan><tspan x="0" y="6.6">(44) [2]</tspan></text></g>
<g id="g17" class="nd" transform="translate(245.2,1509)"><rect x="-25.8" y="-10.25" width="51.6" height="20.5"/><text><tspan x="0" y="-1.8">#17 fc, 32,</tspan><tspan x="0" y="6.6">(89) [x]</tspan></text></g>
<g id="g16" class="nd" transform="translate(321.3,1509)"><rect x="-25.3" y="-10.25" width="50.6" height="20.5"/><text><tspan x="0" y="-1.8">#16 fc, 28,</tspan><tspan x="0" y="6.6">(100) [2]</tspan></text></g>
<g id="g19" class="nd" transform="translate(44.5,1549)"><rect x="-25.5" y="-10.25" width="51" height="20.5"/><text><tspan x="0" y="-1.8">#19 fc, 28,</tspan><tspan x="0" y="6.6">(78) [x]</tspan></text></g>
<g id="g18" class="nd" transform="translate(105.5,1549)"><rect x="-25.5" y="-10.25" width="51" height="20.5"/><text><tspan x="0" y="-1.8">#18 fc, 32,</tspan><tspan x="0" y="6.6">(89) [x]</tspan></text></g>
<g id="g21" class="nd" transform="translate(188.8,1549)"><rect x="-25.5" y="-10.25" width="51" height="20.5"/><text><tspan x="0" y="-1.8">#21 fc, 28,</tspan><tspan x="0" y="6.6">(168) [x]</tspan></text></g>
<g id="g20" class="nd" transform="translate(306.3,1549)"><rect x="-25.3" y="-10.25" width="50.6" height="20.5"/><text><tspan x="0" y="-1.8">#20 fc, 25,</tspan><tspan x="0" y="6.6">(70) [x]</tspan></text></g>
<g id="g23" class="nd sm" transform="translate(44.2,1589.7)"><rect x="-30.8" y="-10.25" width="61.6" height="20.5"/><text><tspan x="0" y="-1.8">#23 softmax,</tspan><tspan x="0" y="6.6">(66) [x]</tspan></text></g>
<g id="g22" class="nd sm" transform="translate(116.8,1589.7)"><rect x="-30.8" y="-10.25" width="61.6" height="20.5"/><text><tspan x="0" y="-1.8">#22 softmax,</tspan><tspan x="0" y="6.6">(66) [x]</tspan></text></g>
<g id="g25" class="nd sm" transform="translate(188.8,1589.7)"><rect x="-31.2" y="-10.25" width="62.4" height="20.5"/><text><tspan x="0" y="-1.8">#25 softmax,</tspan><tspan x="0" y="6.6">(66) [x]</tspan></text></g>
<g id="g24" class="nd sm" transform="translate(276.5,1589.7)"><rect x="-30.8" y="-10.25" width="61.6" height="20.5"/><text><tspan x="0" y="-1.8">#24 softmax,</tspan><tspan x="0" y="6.6">(66) [x]</tspan></text></g>
<g id="g26" class="nd ip" transform="translate(152.8,1629.7)"><rect x="-20.5" y="-10.25" width="41" height="20.5"/><text><tspan x="0" y="-1.8">#26 op,</tspan><tspan x="0" y="6.6">(264) [x]</tspan></text></g>
</g>
<g id="graph-h">
<g id="h0" class="nd ip" transform="translate(566.7,1319.7)"><rect x="-21" y="-10.25" width="42" height="20.5"/><text><tspan x="0" y="-1.8">#0 ip,</tspan><tspan x="0" y="6.6">(284) [1]</tspan></text></g>
<g id="h1" class="nd" transform="translate(507.8,1360.3)"><rect x="-31.2" y="-10.25" width="62.4" height="20.5"/><text><tspan x="0" y="-1.8">#1 conv3, 18,</tspan><tspan x="0" y="6.6">(18) [1]</tspan></text></g>
<g id="h2" class="nd" transform="translate(624.5,1360.3)"><rect x="-31.2" y="-10.25" width="62.4" height="20.5"/><text><tspan x="0" y="-1.8">#2 conv3, 20,</tspan><tspan x="0" y="6.6">(20) [1]</tspan></text></g>
<g id="h4" class="nd" transform="translate(428.3,1400.3)"><rect x="-31" y="-10.25" width="62" height="20.5"/><text><tspan x="0" y="-1.8">#4 conv3, 41,</tspan><tspan x="0" y="6.6">(738) [1]</tspan></text></g>
<g id="h3" class="nd" transform="translate(538.3,1400.3)"><rect x="-31" y="-10.25" width="62" height="20.5"/><text><tspan x="0" y="-1.8">#3 conv3, 18,</tspan><tspan x="0" y="6.6">(324) [1]</tspan></text></g>
<g id="h6" class="nd" transform="translate(646.7,1400.3)"><rect x="-31" y="-10.25" width="62" height="20.5"/><text><tspan x="0" y="-1.8">#6 conv3, 41,</tspan><tspan x="0" y="6.6">(820) [1]</tspan></text></g>
<g id="h5" class="nd" transform="translate(469.2,1441)"><rect x="-30.8" y="-10.25" width="61.6" height="20.5"/><text><tspan x="0" y="-1.8">#5 avg-pool,</tspan><tspan x="0" y="6.6">(18) [1]</tspan></text></g>
<g id="h8" class="nd" transform="translate(540,1441)"><rect x="-28.3" y="-10.25" width="56.6" height="20.5"/><text><tspan x="0" y="-1.8">#8 avg-pool,</tspan><tspan x="0" y="6.6">(18) [1]</tspan></text></g>
<g id="h7" class="nd" transform="translate(608.8,1441)"><rect x="-31.2" y="-10.25" width="62.4" height="20.5"/><text><tspan x="0" y="-1.8">#7 max-pool,</tspan><tspan x="0" y="6.6">(18) [1]</tspan></text></g>
<g id="h11" class="nd" transform="translate(683.6,1441)"><rect x="-33" y="-10.25" width="66" height="20.5"/><text><tspan x="0" y="-1.8">#11 max-pool,</tspan><tspan x="0" y="6.6">(41) [1]</tspan></text></g>
<g id="h9" class="nd" transform="translate(421.8,1481)"><rect x="-30.8" y="-10.25" width="61.6" height="20.5"/><text><tspan x="0" y="-1.8">#9 max-pool,</tspan><tspan x="0" y="6.6">(41) [1]</tspan></text></g>
<g id="h12" class="nd" transform="translate(538.8,1481)"><rect x="-25.5" y="-10.25" width="51" height="20.5"/><text><tspan x="0" y="-1.8">#12 fc, 32,</tspan><tspan x="0" y="6.6">(172) [2]</tspan></text></g>
<g id="h14" class="nd" transform="translate(676.8,1481)"><rect x="-27.2" y="-10.25" width="54.4" height="20.5"/><text><tspan x="0" y="-1.8">#14 fc, 25,</tspan><tspan x="0" y="6.6">(102) [2]</tspan></text></g>
<g id="h13" class="nd" transform="translate(418,1521)"><rect x="-25.3" y="-10.25" width="50.6" height="20.5"/><text><tspan x="0" y="-1.8">#13 fc, 25,</tspan><tspan x="0" y="6.6">(102) [2]</tspan></text></g>
<g id="h10" class="nd" transform="translate(479.7,1521)"><rect x="-25.7" y="-10.25" width="51.4" height="20.5"/><text><tspan x="0" y="-1.8">#10 fc, 32,</tspan><tspan x="0" y="6.6">(57) [2]</tspan></text></g>
<g id="h15" class="nd" transform="translate(539.3,1521)"><rect x="-25" y="-10.25" width="50" height="20.5"/><text><tspan x="0" y="-1.8">#15 fc, 25,</tspan><tspan x="0" y="6.6">(80) [x]</tspan></text></g>
<g id="h18" class="nd" transform="translate(647.8,1521)"><rect x="-25.5" y="-10.25" width="51" height="20.5"/><text><tspan x="0" y="-1.8">#18 fc, 19,</tspan><tspan x="0" y="6.6">(47) [x]</tspan></text></g>
<g id="h17" class="nd" transform="translate(413.2,1561.2)"><rect x="-25.8" y="-10.25" width="51.6" height="20.5"/><text><tspan x="0" y="-1.8">#17 fc, 22,</tspan><tspan x="0" y="6.6">(55) [x]</tspan></text></g>
<g id="h16" class="nd" transform="translate(473.8,1561.2)"><rect x="-25.5" y="-10.25" width="51" height="20.5"/><text><tspan x="0" y="-1.8">#16 fc, 19,</tspan><tspan x="0" y="6.6">(47) [x]</tspan></text></g>
<g id="h19" class="nd" transform="translate(540,1561.2)"><rect x="-25.7" y="-10.25" width="51.4" height="20.5"/><text><tspan x="0" y="-1.8">#19 fc, 22,</tspan><tspan x="0" y="6.6">(125) [x]</tspan></text></g>
<g id="h21" class="nd sm" transform="translate(401.7,1601.3)"><rect x="-31" y="-10.25" width="62" height="20.5"/><text><tspan x="0" y="-1.8">#21 softmax,</tspan><tspan x="0" y="6.6">(71) [x]</tspan></text></g>
<g id="h20" class="nd sm" transform="translate(473.5,1601.3)"><rect x="-30.8" y="-10.25" width="61.6" height="20.5"/><text><tspan x="0" y="-1.8">#20 softmax,</tspan><tspan x="0" y="6.6">(71) [x]</tspan></text></g>
<g id="h23" class="nd sm" transform="translate(546.2,1601.3)"><rect x="-31.2" y="-10.25" width="62.4" height="20.5"/><text><tspan x="0" y="-1.8">#23 softmax,</tspan><tspan x="0" y="6.6">(71) [x]</tspan></text></g>
<g id="h22" class="nd sm" transform="translate(625,1601.3)"><rect x="-31" y="-10.25" width="62" height="20.5"/><text><tspan x="0" y="-1.8">#22 softmax,</tspan><tspan x="0" y="6.6">(71) [x]</tspan></text></g>
<g id="h24" class="nd ip" transform="translate(510.2,1641.5)"><rect x="-20.9" y="-10.25" width="41.8" height="20.5"/><text><tspan x="0" y="-1.8">#24 op,</tspan><tspan x="0" y="6.6">(284) [x]</tspan></text></g>
</g>
<g id="graph-i">
<g id="i0" class="nd ip" transform="translate(888.8,1214.3)"><rect x="-21.2" y="-10.25" width="42.4" height="20.5"/><text><tspan x="0" y="-1.8">#0 ip,</tspan><tspan x="0" y="6.6">(459) [1]</tspan></text></g>
<g id="i1" class="nd" transform="translate(837.8,1254.7)"><rect x="-31.2" y="-10.25" width="62.4" height="20.5"/><text><tspan x="0" y="-1.8">#1 conv3, 16,</tspan><tspan x="0" y="6.6">(16) [1]</tspan></text></g>
<g id="i2" class="nd" transform="translate(940.5,1254.7)"><rect x="-31.2" y="-10.25" width="62.4" height="20.5"/><text><tspan x="0" y="-1.8">#2 conv3, 16,</tspan><tspan x="0" y="6.6">(16) [1]</tspan></text></g>
<g id="i5" class="nd" transform="translate(728,1295)"><rect x="-29.7" y="-10.25" width="59.4" height="20.5"/><text><tspan x="0" y="-1.8">#5 avg-pool,</tspan><tspan x="0" y="6.6">(16) [1]</tspan></text></g>
<g id="i3" class="nd" transform="translate(822.7,1295)"><rect x="-28.3" y="-10.25" width="56.6" height="20.5"/><text><tspan x="0" y="-1.8">#3 res5, 16,</tspan><tspan x="0" y="6.6">(256) [1]</tspan></text></g>
<g id="i4" class="nd" transform="translate(894.5,1295)"><rect x="-31.2" y="-10.25" width="62.4" height="20.5"/><text><tspan x="0" y="-1.8">#4 conv3, 16,</tspan><tspan x="0" y="6.6">(256) [1]</tspan></text></g>
<g id="i7" class="nd" transform="translate(822.5,1335)"><rect x="-30.8" y="-10.25" width="61.6" height="20.5"/><text><tspan x="0" y="-1.8">#7 conv5, 32,</tspan><tspan x="0" y="6.6">(512) [1]</tspan></text></g>
<g id="i9" class="nd" transform="translate(896.7,1335)"><rect x="-31" y="-10.25" width="62" height="20.5"/><text><tspan x="0" y="-1.8">#9 conv3, 32,</tspan><tspan x="0" y="6.6">(512) [1]</tspan></text></g>
<g id="i6" class="nd" transform="translate(971.2,1335)"><rect x="-31.2" y="-10.25" width="62.4" height="20.5"/><text><tspan x="0" y="-1.8">#6 conv3, 16,</tspan><tspan x="0" y="6.6">(256) [1]</tspan></text></g>
<g id="i8" class="nd" transform="translate(750,1375.3)"><rect x="-28.3" y="-10.25" width="56.6" height="20.5"/><text><tspan x="0" y="-1.8">#8 res3, 32,</tspan><tspan x="0" y="6.6">(512) [1]</tspan></text></g>
<g id="i11" class="nd" transform="translate(822.7,1375.3)"><rect x="-33.3" y="-10.25" width="66.6" height="20.5"/><text><tspan x="0" y="-1.8">#11 conv3, 32,</tspan><tspan x="0" y="6.6">(1024) [1]</tspan></text></g>
<g id="i13" class="nd" transform="translate(898.7,1375.3)"><rect x="-32" y="-10.25" width="64" height="20.5"/><text><tspan x="0" y="-1.8">#13 avg-pool,</tspan><tspan x="0" y="6.6">(32) [1]</tspan></text></g>
<g id="i10" class="nd" transform="translate(972.8,1375.3)"><rect x="-32.2" y="-10.25" width="64.4" height="20.5"/><text><tspan x="0" y="-1.8">#10 avg-pool,</tspan><tspan x="0" y="6.6">(16) [1]</tspan></text></g>
<g id="i12" class="nd" transform="translate(749.2,1415.5)"><rect x="-31.8" y="-10.25" width="63.6" height="20.5"/><text><tspan x="0" y="-1.8">#12 avg-pool,</tspan><tspan x="0" y="6.6">(32) [1]</tspan></text></g>
<g id="i15" class="nd" transform="translate(823.7,1415.5)"><rect x="-32" y="-10.25" width="64" height="20.5"/><text><tspan x="0" y="-1.8">#15 avg-pool,</tspan><tspan x="0" y="6.6">(32) [1]</tspan></text></g>
<g id="i14" class="nd" transform="translate(898,1415.5)"><rect x="-32" y="-10.25" width="64" height="20.5"/><text><tspan x="0" y="-1.8">#14 avg-pool,</tspan><tspan x="0" y="6.6">(32) [1]</tspan></text></g>
<g id="i16" class="nd" transform="translate(966.2,1415.5)"><rect x="-25.5" y="-10.25" width="51" height="20.5"/><text><tspan x="0" y="-1.8">#16 fc, 32,</tspan><tspan x="0" y="6.6">(153) [2]</tspan></text></g>
<g id="i18" class="nd" transform="translate(785.8,1455.8)"><rect x="-25.2" y="-10.25" width="50.4" height="20.5"/><text><tspan x="0" y="-1.8">#18 fc, 36,</tspan><tspan x="0" y="6.6">(288) [2]</tspan></text></g>
<g id="i17" class="nd" transform="translate(898,1455.8)"><rect x="-25.3" y="-10.25" width="50.6" height="20.5"/><text><tspan x="0" y="-1.8">#17 fc, 36,</tspan><tspan x="0" y="6.6">(115) [2]</tspan></text></g>
<g id="i20" class="nd" transform="translate(843.8,1495.8)"><rect x="-25.5" y="-10.25" width="51" height="20.5"/><text><tspan x="0" y="-1.8">#20 fc, 36,</tspan><tspan x="0" y="6.6">(259) [x]</tspan></text></g>
<g id="i19" class="nd" transform="translate(904.7,1495.8)"><rect x="-25.3" y="-10.25" width="50.6" height="20.5"/><text><tspan x="0" y="-1.8">#19 fc, 36,</tspan><tspan x="0" y="6.6">(129) [x]</tspan></text></g>
<g id="i21" class="nd" transform="translate(904.7,1536.3)"><rect x="-25.3" y="-10.25" width="50.6" height="20.5"/><text><tspan x="0" y="-1.8">#21 fc, 36,</tspan><tspan x="0" y="6.6">(129) [x]</tspan></text></g>
<g id="i22" class="nd sm" transform="translate(904.5,1576.7)"><rect x="-31.2" y="-10.25" width="62.4" height="20.5"/><text><tspan x="0" y="-1.8">#22 softmax,</tspan><tspan x="0" y="6.6">(459) [x]</tspan></text></g>
<g id="i23" class="nd ip" transform="translate(904.5,1616.7)"><rect x="-20" y="-10.25" width="40" height="20.5"/><text><tspan x="0" y="-1.8">#23 op,</tspan><tspan x="0" y="6.6">(459) [x]</tspan></text></g>
</g>
</svg>
